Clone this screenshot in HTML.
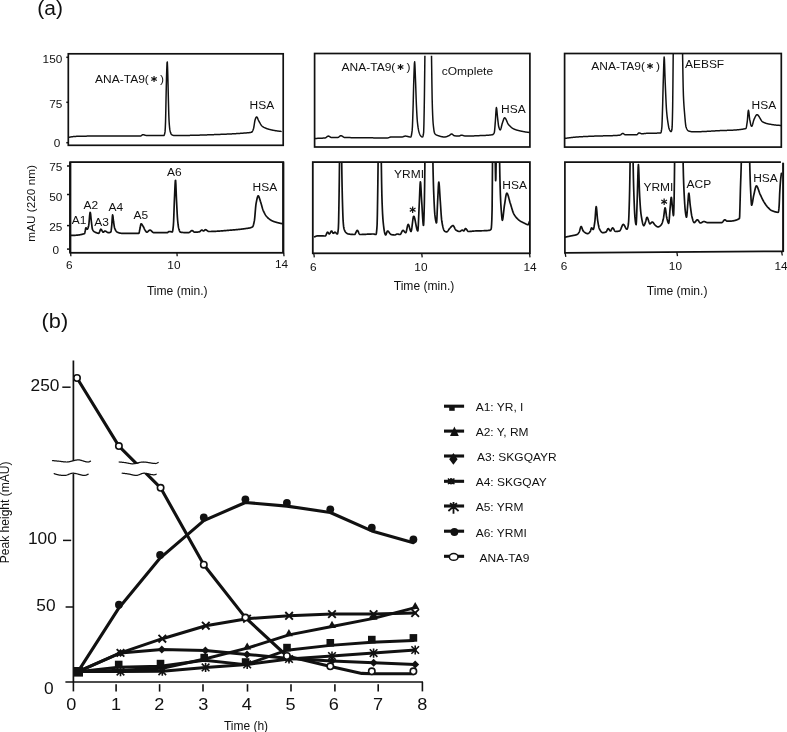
<!DOCTYPE html>
<html><head><meta charset="utf-8"><title>Figure</title>
<style>html,body{margin:0;padding:0;background:#fff}svg{display:block}text{font-family:'Liberation Sans', 'DejaVu Sans', sans-serif;fill:#111}</style>
</head><body>
<svg width="787" height="732" viewBox="0 0 787 732">
<rect width="787" height="732" fill="#fff"/>
<text transform="translate(37.3,15.1) scale(1.08,1)" font-size="19.4" text-anchor="start" >(a)</text>
<defs>
<clipPath id="c_p1t"><rect x="68.3" y="54.4" width="214.89999999999998" height="90.90000000000002"/></clipPath>
<clipPath id="c_p1b"><rect x="70.2" y="162.7" width="213.10000000000002" height="90.10000000000002"/></clipPath>
<clipPath id="c_p2t"><rect x="314.6" y="55.7" width="215.29999999999995" height="91.3"/></clipPath>
<clipPath id="c_p2b"><rect x="312.8" y="162.7" width="217.09999999999997" height="90.60000000000002"/></clipPath>
<clipPath id="c_p3t"><rect x="564.6" y="54.1" width="216.69999999999993" height="93.0"/></clipPath>
<clipPath id="c_p3b"><rect x="564.9" y="162.7" width="218.20000000000005" height="89.60000000000002"/></clipPath>
</defs>
<path d="M68.80,137.30 L69.05,137.26 L69.30,137.22 L69.55,137.17 L69.80,137.13 L70.05,137.09 L70.30,137.04 L70.55,137.00 L70.80,136.96 L71.05,136.92 L71.30,136.88 L71.55,136.84 L71.80,136.80 L72.05,136.76 L72.30,136.73 L72.55,136.69 L72.80,136.66 L73.05,136.62 L73.30,136.59 L73.55,136.56 L73.80,136.54 L74.05,136.51 L74.30,136.49 L74.55,136.46 L74.80,136.45 L75.05,136.43 L75.30,136.41 L75.55,136.40 L75.80,136.39 L76.05,136.38 L76.30,136.37 L76.55,136.36 L76.80,136.35 L77.05,136.35 L77.30,136.34 L77.55,136.33 L77.80,136.32 L78.05,136.31 L78.30,136.30 L78.55,136.30 L78.80,136.29 L79.05,136.28 L79.30,136.27 L79.55,136.27 L79.80,136.26 L80.05,136.25 L80.30,136.25 L80.55,136.24 L80.80,136.23 L81.05,136.23 L81.30,136.22 L81.55,136.21 L81.80,136.21 L82.05,136.20 L82.30,136.20 L82.55,136.19 L82.80,136.19 L83.05,136.18 L83.30,136.18 L83.55,136.17 L83.80,136.17 L84.05,136.16 L84.30,136.16 L84.55,136.15 L84.80,136.15 L85.05,136.15 L85.30,136.14 L85.55,136.14 L85.80,136.14 L86.05,136.13 L86.30,136.13 L86.55,136.13 L86.80,136.12 L87.05,136.12 L87.30,136.12 L87.55,136.12 L87.80,136.11 L88.05,136.11 L88.30,136.11 L88.55,136.11 L88.80,136.11 L89.05,136.10 L89.30,136.10 L89.55,136.10 L89.80,136.10 L90.05,136.10 L90.30,136.10 L90.55,136.10 L90.80,136.10 L91.05,136.10 L91.30,136.09 L91.55,136.09 L91.80,136.09 L92.05,136.09 L92.30,136.09 L92.55,136.09 L92.80,136.09 L93.05,136.09 L93.30,136.09 L93.55,136.09 L93.80,136.09 L94.05,136.09 L94.30,136.08 L94.55,136.08 L94.80,136.08 L95.05,136.08 L95.30,136.08 L95.55,136.08 L95.80,136.08 L96.05,136.08 L96.30,136.08 L96.55,136.08 L96.80,136.08 L97.05,136.08 L97.30,136.08 L97.55,136.08 L97.80,136.08 L98.05,136.07 L98.30,136.07 L98.55,136.07 L98.80,136.07 L99.05,136.07 L99.30,136.07 L99.55,136.07 L99.80,136.07 L100.05,136.07 L100.30,136.07 L100.55,136.07 L100.80,136.07 L101.05,136.07 L101.30,136.07 L101.55,136.07 L101.80,136.07 L102.05,136.07 L102.30,136.07 L102.55,136.07 L102.80,136.07 L103.05,136.07 L103.30,136.07 L103.55,136.07 L103.80,136.07 L104.05,136.07 L104.30,136.07 L104.55,136.07 L104.80,136.07 L105.05,136.06 L105.30,136.06 L105.55,136.06 L105.80,136.06 L106.05,136.06 L106.30,136.06 L106.55,136.06 L106.80,136.06 L107.05,136.06 L107.30,136.06 L107.55,136.06 L107.80,136.06 L108.05,136.06 L108.30,136.06 L108.55,136.06 L108.80,136.06 L109.05,136.06 L109.30,136.06 L109.55,136.06 L109.80,136.06 L110.05,136.06 L110.30,136.06 L110.55,136.06 L110.80,136.06 L111.05,136.06 L111.30,136.06 L111.55,136.06 L111.80,136.06 L112.05,136.06 L112.30,136.06 L112.55,136.06 L112.80,136.06 L113.05,136.06 L113.30,136.06 L113.55,136.06 L113.80,136.06 L114.05,136.06 L114.30,136.06 L114.55,136.06 L114.80,136.06 L115.05,136.06 L115.30,136.06 L115.55,136.06 L115.80,136.06 L116.05,136.06 L116.30,136.06 L116.55,136.06 L116.80,136.06 L117.05,136.06 L117.30,136.06 L117.55,136.06 L117.80,136.06 L118.05,136.06 L118.30,136.06 L118.55,136.06 L118.80,136.06 L119.05,136.06 L119.30,136.06 L119.55,136.06 L119.80,136.06 L120.05,136.06 L120.30,136.06 L120.55,136.06 L120.80,136.06 L121.05,136.05 L121.30,136.05 L121.55,136.05 L121.80,136.05 L122.05,136.05 L122.30,136.05 L122.55,136.05 L122.80,136.05 L123.05,136.05 L123.30,136.05 L123.55,136.05 L123.80,136.05 L124.05,136.05 L124.30,136.05 L124.55,136.05 L124.80,136.05 L125.05,136.05 L125.30,136.05 L125.55,136.05 L125.80,136.05 L126.05,136.05 L126.30,136.05 L126.55,136.05 L126.80,136.05 L127.05,136.05 L127.30,136.05 L127.55,136.05 L127.80,136.05 L128.05,136.05 L128.30,136.04 L128.55,136.04 L128.80,136.04 L129.05,136.04 L129.30,136.04 L129.55,136.04 L129.80,136.04 L130.05,136.04 L130.30,136.04 L130.55,136.04 L130.80,136.04 L131.05,136.04 L131.30,136.04 L131.55,136.04 L131.80,136.04 L132.05,136.04 L132.30,136.03 L132.55,136.03 L132.80,136.03 L133.05,136.03 L133.30,136.03 L133.55,136.03 L133.80,136.03 L134.05,136.03 L134.30,136.03 L134.55,136.03 L134.80,136.03 L135.05,136.03 L135.30,136.02 L135.55,136.02 L135.80,136.02 L136.05,136.02 L136.30,136.02 L136.55,136.02 L136.80,136.02 L137.05,136.02 L137.30,136.02 L137.55,136.02 L137.80,136.01 L138.05,136.01 L138.30,136.01 L138.55,136.01 L138.80,136.01 L139.05,136.01 L139.30,136.01 L139.55,136.01 L139.80,136.00 L140.05,136.00 L140.30,136.00 L140.55,136.00 L140.80,135.94 L141.05,135.81 L141.30,135.64 L141.55,135.43 L141.80,135.22 L142.05,135.02 L142.30,134.86 L142.55,134.74 L142.80,134.70 L143.05,134.71 L143.30,134.73 L143.55,134.77 L143.80,134.82 L144.05,134.88 L144.30,134.95 L144.55,135.02 L144.80,135.09 L145.05,135.17 L145.30,135.24 L145.55,135.31 L145.80,135.37 L146.05,135.42 L146.30,135.46 L146.55,135.49 L146.80,135.50 L147.05,135.50 L147.30,135.51 L147.55,135.51 L147.80,135.51 L148.05,135.52 L148.30,135.52 L148.55,135.52 L148.80,135.53 L149.05,135.53 L149.30,135.53 L149.55,135.53 L149.80,135.54 L150.05,135.54 L150.30,135.54 L150.55,135.54 L150.80,135.55 L151.05,135.55 L151.30,135.55 L151.55,135.55 L151.80,135.56 L152.05,135.56 L152.30,135.56 L152.55,135.56 L152.80,135.56 L153.05,135.57 L153.30,135.57 L153.55,135.57 L153.80,135.57 L154.05,135.57 L154.30,135.57 L154.55,135.58 L154.80,135.58 L155.05,135.58 L155.30,135.58 L155.55,135.58 L155.80,135.58 L156.05,135.58 L156.30,135.59 L156.55,135.59 L156.80,135.59 L157.05,135.59 L157.30,135.59 L157.55,135.59 L157.80,135.59 L158.05,135.59 L158.30,135.59 L158.55,135.59 L158.80,135.59 L159.05,135.59 L159.30,135.60 L159.55,135.60 L159.80,135.60 L160.05,135.60 L160.30,135.60 L160.55,135.60 L160.80,135.60 L161.05,135.60 L161.30,135.60 L161.55,135.60 L161.80,135.60 L162.05,135.60 L162.30,135.60 L162.55,135.60 L162.80,135.60 L163.05,135.60 L163.30,135.60 L163.55,135.60 L163.80,135.60 L164.05,135.43 L164.30,134.94 L164.55,134.14 L164.80,133.06 L165.05,131.64 L165.30,127.78 L165.55,121.45 L165.80,110.82 L166.05,97.70 L166.30,86.27 L166.55,76.55 L166.80,68.86 L167.05,62.70 L167.30,62.00 L167.55,67.39 L167.80,75.00 L168.05,84.65 L168.30,95.98 L168.55,105.78 L168.80,114.98 L169.05,120.82 L169.30,124.44 L169.55,127.29 L169.80,129.38 L170.05,130.72 L170.30,131.73 L170.55,132.59 L170.80,133.31 L171.05,133.88 L171.30,134.29 L171.55,134.54 L171.80,134.73 L172.05,134.89 L172.30,135.04 L172.55,135.16 L172.80,135.26 L173.05,135.33 L173.30,135.38 L173.55,135.40 L173.80,135.41 L174.05,135.43 L174.30,135.44 L174.55,135.44 L174.80,135.45 L175.05,135.46 L175.30,135.47 L175.55,135.47 L175.80,135.48 L176.05,135.48 L176.30,135.49 L176.55,135.49 L176.80,135.50 L177.05,135.50 L177.30,135.50 L177.55,135.50 L177.80,135.50 L178.05,135.50 L178.30,135.50 L178.55,135.50 L178.80,135.50 L179.05,135.50 L179.30,135.50 L179.55,135.50 L179.80,135.50 L180.05,135.50 L180.30,135.49 L180.55,135.49 L180.80,135.49 L181.05,135.49 L181.30,135.49 L181.55,135.49 L181.80,135.49 L182.05,135.48 L182.30,135.48 L182.55,135.48 L182.80,135.48 L183.05,135.47 L183.30,135.47 L183.55,135.47 L183.80,135.47 L184.05,135.46 L184.30,135.46 L184.55,135.46 L184.80,135.46 L185.05,135.45 L185.30,135.45 L185.55,135.45 L185.80,135.44 L186.05,135.44 L186.30,135.44 L186.55,135.43 L186.80,135.43 L187.05,135.42 L187.30,135.42 L187.55,135.42 L187.80,135.41 L188.05,135.41 L188.30,135.40 L188.55,135.40 L188.80,135.39 L189.05,135.39 L189.30,135.39 L189.55,135.38 L189.80,135.38 L190.05,135.37 L190.30,135.37 L190.55,135.36 L190.80,135.36 L191.05,135.35 L191.30,135.34 L191.55,135.34 L191.80,135.33 L192.05,135.33 L192.30,135.32 L192.55,135.32 L192.80,135.31 L193.05,135.30 L193.30,135.30 L193.55,135.29 L193.80,135.29 L194.05,135.28 L194.30,135.27 L194.55,135.27 L194.80,135.26 L195.05,135.26 L195.30,135.25 L195.55,135.24 L195.80,135.24 L196.05,135.23 L196.30,135.22 L196.55,135.21 L196.80,135.21 L197.05,135.20 L197.30,135.19 L197.55,135.19 L197.80,135.18 L198.05,135.17 L198.30,135.16 L198.55,135.16 L198.80,135.15 L199.05,135.14 L199.30,135.14 L199.55,135.13 L199.80,135.12 L200.05,135.11 L200.30,135.10 L200.55,135.10 L200.80,135.09 L201.05,135.08 L201.30,135.07 L201.55,135.06 L201.80,135.06 L202.05,135.05 L202.30,135.04 L202.55,135.03 L202.80,135.02 L203.05,135.02 L203.30,135.01 L203.55,135.00 L203.80,134.99 L204.05,134.98 L204.30,134.97 L204.55,134.97 L204.80,134.96 L205.05,134.95 L205.30,134.94 L205.55,134.93 L205.80,134.92 L206.05,134.91 L206.30,134.90 L206.55,134.90 L206.80,134.89 L207.05,134.88 L207.30,134.87 L207.55,134.86 L207.80,134.85 L208.05,134.84 L208.30,134.83 L208.55,134.82 L208.80,134.81 L209.05,134.81 L209.30,134.80 L209.55,134.79 L209.80,134.78 L210.05,134.77 L210.30,134.76 L210.55,134.75 L210.80,134.74 L211.05,134.73 L211.30,134.72 L211.55,134.71 L211.80,134.70 L212.05,134.69 L212.30,134.68 L212.55,134.67 L212.80,134.66 L213.05,134.66 L213.30,134.65 L213.55,134.64 L213.80,134.63 L214.05,134.62 L214.30,134.61 L214.55,134.60 L214.80,134.59 L215.05,134.58 L215.30,134.57 L215.55,134.56 L215.80,134.55 L216.05,134.54 L216.30,134.53 L216.55,134.52 L216.80,134.51 L217.05,134.50 L217.30,134.49 L217.55,134.48 L217.80,134.47 L218.05,134.46 L218.30,134.45 L218.55,134.44 L218.80,134.43 L219.05,134.42 L219.30,134.42 L219.55,134.41 L219.80,134.40 L220.05,134.39 L220.30,134.38 L220.55,134.37 L220.80,134.36 L221.05,134.35 L221.30,134.34 L221.55,134.33 L221.80,134.32 L222.05,134.31 L222.30,134.30 L222.55,134.29 L222.80,134.28 L223.05,134.27 L223.30,134.26 L223.55,134.25 L223.80,134.24 L224.05,134.23 L224.30,134.22 L224.55,134.21 L224.80,134.20 L225.05,134.19 L225.30,134.18 L225.55,134.17 L225.80,134.16 L226.05,134.15 L226.30,134.14 L226.55,134.13 L226.80,134.12 L227.05,134.11 L227.30,134.09 L227.55,134.08 L227.80,134.07 L228.05,134.06 L228.30,134.05 L228.55,134.04 L228.80,134.03 L229.05,134.01 L229.30,134.00 L229.55,133.99 L229.80,133.98 L230.05,133.97 L230.30,133.95 L230.55,133.94 L230.80,133.93 L231.05,133.92 L231.30,133.90 L231.55,133.89 L231.80,133.88 L232.05,133.86 L232.30,133.85 L232.55,133.84 L232.80,133.82 L233.05,133.81 L233.30,133.80 L233.55,133.78 L233.80,133.77 L234.05,133.76 L234.30,133.74 L234.55,133.73 L234.80,133.71 L235.05,133.70 L235.30,133.68 L235.55,133.67 L235.80,133.65 L236.05,133.64 L236.30,133.62 L236.55,133.61 L236.80,133.59 L237.05,133.58 L237.30,133.56 L237.55,133.55 L237.80,133.53 L238.05,133.51 L238.30,133.50 L238.55,133.48 L238.80,133.46 L239.05,133.45 L239.30,133.43 L239.55,133.41 L239.80,133.40 L240.05,133.38 L240.30,133.36 L240.55,133.34 L240.80,133.33 L241.05,133.31 L241.30,133.29 L241.55,133.27 L241.80,133.25 L242.05,133.23 L242.30,133.21 L242.55,133.20 L242.80,133.18 L243.05,133.16 L243.30,133.14 L243.55,133.12 L243.80,133.10 L244.05,133.08 L244.30,133.06 L244.55,133.04 L244.80,133.02 L245.05,133.00 L245.30,132.98 L245.55,132.96 L245.80,132.94 L246.05,132.92 L246.30,132.91 L246.55,132.89 L246.80,132.87 L247.05,132.85 L247.30,132.84 L247.55,132.82 L247.80,132.80 L248.05,132.78 L248.30,132.76 L248.55,132.73 L248.80,132.71 L249.05,132.68 L249.30,132.65 L249.55,132.61 L249.80,132.58 L250.05,132.54 L250.30,132.49 L250.55,132.44 L250.80,132.39 L251.05,132.34 L251.30,132.28 L251.55,132.21 L251.80,132.10 L252.05,131.86 L252.30,131.50 L252.55,131.04 L252.80,130.50 L253.05,129.91 L253.30,129.26 L253.55,128.51 L253.80,127.34 L254.05,125.88 L254.30,124.26 L254.55,122.64 L254.80,121.17 L255.05,120.00 L255.30,119.23 L255.55,118.56 L255.80,117.95 L256.05,117.44 L256.30,117.07 L256.55,116.91 L256.80,116.97 L257.05,117.22 L257.30,117.63 L257.55,118.14 L257.80,118.73 L258.05,119.35 L258.30,119.96 L258.55,120.52 L258.80,121.00 L259.05,121.43 L259.30,121.86 L259.55,122.31 L259.80,122.75 L260.05,123.19 L260.30,123.62 L260.55,124.05 L260.80,124.45 L261.05,124.84 L261.30,125.19 L261.55,125.53 L261.80,125.82 L262.05,126.08 L262.30,126.30 L262.55,126.49 L262.80,126.67 L263.05,126.84 L263.30,127.00 L263.55,127.16 L263.80,127.30 L264.05,127.44 L264.30,127.57 L264.55,127.69 L264.80,127.81 L265.05,127.92 L265.30,128.03 L265.55,128.14 L265.80,128.23 L266.05,128.33 L266.30,128.42 L266.55,128.51 L266.80,128.60 L267.05,128.69 L267.30,128.77 L267.55,128.85 L267.80,128.93 L268.05,129.01 L268.30,129.09 L268.55,129.16 L268.80,129.23 L269.05,129.31 L269.30,129.38 L269.55,129.44 L269.80,129.51 L270.05,129.57 L270.30,129.64 L270.55,129.70 L270.80,129.76 L271.05,129.82 L271.30,129.88 L271.55,129.93 L271.80,129.99 L272.05,130.04 L272.30,130.09 L272.55,130.14 L272.80,130.19 L273.05,130.24 L273.30,130.29 L273.55,130.34 L273.80,130.38 L274.05,130.43 L274.30,130.47 L274.55,130.51 L274.80,130.56 L275.05,130.60 L275.30,130.64 L275.55,130.68 L275.80,130.72 L276.05,130.76 L276.30,130.80 L276.55,130.84 L276.80,130.88 L277.05,130.92 L277.30,130.96 L277.55,130.99 L277.80,131.03 L278.05,131.06 L278.30,131.09 L278.55,131.13 L278.80,131.16 L279.05,131.19 L279.30,131.22 L279.55,131.24 L279.80,131.27 L280.05,131.30 L280.30,131.32 L280.55,131.34 L280.80,131.37 L281.05,131.39" fill="none" stroke="#111" stroke-width="1.5" stroke-linejoin="round" stroke-linecap="round" clip-path="url(#c_p1t)"/>
<rect x="68.3" y="53.8" width="214.89999999999998" height="91.50000000000001" fill="none" stroke="#111" stroke-width="1.7"/>
<path d="M70.60,235.40 L70.85,235.40 L71.10,235.40 L71.35,235.40 L71.60,235.40 L71.85,235.39 L72.10,235.39 L72.35,235.39 L72.60,235.38 L72.85,235.38 L73.10,235.37 L73.35,235.37 L73.60,235.36 L73.85,235.35 L74.10,235.34 L74.35,235.33 L74.60,235.32 L74.85,235.31 L75.10,235.30 L75.35,235.29 L75.60,235.27 L75.85,235.25 L76.10,235.24 L76.35,235.22 L76.60,235.20 L76.85,235.17 L77.10,235.15 L77.35,235.13 L77.60,235.10 L77.85,235.07 L78.10,235.04 L78.35,235.01 L78.60,234.98 L78.85,234.94 L79.10,234.91 L79.35,234.87 L79.60,234.83 L79.85,234.79 L80.10,234.74 L80.35,234.70 L80.60,234.65 L80.85,234.60 L81.10,234.55 L81.35,234.49 L81.60,234.43 L81.85,234.38 L82.10,234.31 L82.35,234.25 L82.60,234.18 L82.85,234.12 L83.10,234.05 L83.35,233.97 L83.60,233.90 L83.85,233.82 L84.10,233.74 L84.35,233.65 L84.60,233.48 L84.85,232.63 L85.10,231.44 L85.35,230.24 L85.60,228.76 L85.85,227.83 L86.10,227.89 L86.35,228.19 L86.60,228.58 L86.85,228.95 L87.10,229.18 L87.35,229.15 L87.60,228.86 L87.85,228.35 L88.10,227.67 L88.35,226.87 L88.60,226.00 L88.85,224.47 L89.10,221.98 L89.35,219.04 L89.60,216.13 L89.85,213.77 L90.10,212.43 L90.35,212.60 L90.60,214.16 L90.85,216.56 L91.10,219.24 L91.35,221.61 L91.60,223.58 L91.85,225.69 L92.10,227.61 L92.35,229.03 L92.60,229.69 L92.85,230.12 L93.10,230.50 L93.35,230.82 L93.60,231.10 L93.85,231.34 L94.10,231.55 L94.35,231.73 L94.60,231.88 L94.85,232.02 L95.10,232.15 L95.35,232.27 L95.60,232.39 L95.85,232.51 L96.10,232.62 L96.35,232.73 L96.60,232.83 L96.85,232.93 L97.10,233.01 L97.35,233.09 L97.60,233.16 L97.85,233.21 L98.10,233.26 L98.35,233.28 L98.60,233.30 L98.85,233.25 L99.10,232.94 L99.35,232.44 L99.60,231.80 L99.85,231.11 L100.10,230.43 L100.35,229.84 L100.60,229.41 L100.85,229.21 L101.10,229.26 L101.35,229.50 L101.60,229.86 L101.85,230.31 L102.10,230.80 L102.35,231.27 L102.60,231.69 L102.85,232.01 L103.10,232.18 L103.35,232.17 L103.60,232.03 L103.85,231.81 L104.10,231.55 L104.35,231.30 L104.60,231.10 L104.85,231.00 L105.10,231.02 L105.35,231.07 L105.60,231.17 L105.85,231.29 L106.10,231.44 L106.35,231.61 L106.60,231.78 L106.85,231.96 L107.10,232.13 L107.35,232.29 L107.60,232.43 L107.85,232.55 L108.10,232.64 L108.35,232.69 L108.60,232.70 L108.85,232.69 L109.10,232.66 L109.35,232.62 L109.60,232.56 L109.85,232.48 L110.10,232.38 L110.35,232.27 L110.60,232.13 L110.85,231.94 L111.10,230.93 L111.35,229.09 L111.60,226.88 L111.85,224.28 L112.10,220.30 L112.35,216.56 L112.60,214.90 L112.85,215.71 L113.10,217.66 L113.35,220.00 L113.60,222.00 L113.85,223.67 L114.10,225.35 L114.35,226.86 L114.60,228.00 L114.85,228.67 L115.10,229.24 L115.35,229.76 L115.60,230.23 L115.85,230.65 L116.10,231.02 L116.35,231.34 L116.60,231.62 L116.85,231.85 L117.10,232.04 L117.35,232.18 L117.60,232.29 L117.85,232.39 L118.10,232.49 L118.35,232.59 L118.60,232.68 L118.85,232.77 L119.10,232.84 L119.35,232.92 L119.60,232.99 L119.85,233.05 L120.10,233.10 L120.35,233.15 L120.60,233.20 L120.85,233.23 L121.10,233.26 L121.35,233.28 L121.60,233.29 L121.85,233.30 L122.10,233.30 L122.35,233.30 L122.60,233.30 L122.85,233.30 L123.10,233.30 L123.35,233.30 L123.60,233.30 L123.85,233.30 L124.10,233.30 L124.35,233.30 L124.60,233.30 L124.85,233.30 L125.10,233.30 L125.35,233.30 L125.60,233.30 L125.85,233.30 L126.10,233.30 L126.35,233.30 L126.60,233.30 L126.85,233.30 L127.10,233.30 L127.35,233.30 L127.60,233.30 L127.85,233.30 L128.10,233.30 L128.35,233.30 L128.60,233.30 L128.85,233.30 L129.10,233.30 L129.35,233.30 L129.60,233.30 L129.85,233.30 L130.10,233.30 L130.35,233.30 L130.60,233.30 L130.85,233.30 L131.10,233.30 L131.35,233.30 L131.60,233.30 L131.85,233.30 L132.10,233.30 L132.35,233.30 L132.60,233.30 L132.85,233.30 L133.10,233.30 L133.35,233.30 L133.60,233.30 L133.85,233.30 L134.10,233.30 L134.35,233.30 L134.60,233.30 L134.85,233.30 L135.10,233.30 L135.35,233.30 L135.60,233.30 L135.85,233.30 L136.10,233.30 L136.35,233.30 L136.60,233.30 L136.85,233.30 L137.10,233.30 L137.35,233.30 L137.60,233.30 L137.85,233.30 L138.10,233.30 L138.35,233.30 L138.60,233.30 L138.85,233.28 L139.10,232.76 L139.35,231.71 L139.60,230.44 L139.85,229.21 L140.10,228.04 L140.35,226.63 L140.60,225.26 L140.85,224.21 L141.10,223.80 L141.35,223.86 L141.60,224.05 L141.85,224.32 L142.10,224.67 L142.35,225.06 L142.60,225.49 L142.85,225.92 L143.10,226.34 L143.35,226.75 L143.60,227.21 L143.85,227.73 L144.10,228.26 L144.35,228.80 L144.60,229.30 L144.85,229.76 L145.10,230.15 L145.35,230.56 L145.60,230.97 L145.85,231.36 L146.10,231.71 L146.35,231.98 L146.60,232.15 L146.85,232.20 L147.10,232.15 L147.35,232.04 L147.60,231.87 L147.85,231.67 L148.10,231.44 L148.35,231.20 L148.60,230.95 L148.85,230.72 L149.10,230.50 L149.35,230.32 L149.60,230.19 L149.85,230.11 L150.10,230.11 L150.35,230.16 L150.60,230.27 L150.85,230.42 L151.10,230.60 L151.35,230.82 L151.60,231.05 L151.85,231.30 L152.10,231.55 L152.35,231.79 L152.60,232.03 L152.85,232.24 L153.10,232.42 L153.35,232.56 L153.60,232.66 L153.85,232.70 L154.10,232.70 L154.35,232.70 L154.60,232.70 L154.85,232.70 L155.10,232.70 L155.35,232.70 L155.60,232.70 L155.85,232.70 L156.10,232.70 L156.35,232.70 L156.60,232.70 L156.85,232.70 L157.10,232.70 L157.35,232.70 L157.60,232.70 L157.85,232.70 L158.10,232.70 L158.35,232.70 L158.60,232.70 L158.85,232.70 L159.10,232.70 L159.35,232.70 L159.60,232.70 L159.85,232.70 L160.10,232.70 L160.35,232.70 L160.60,232.70 L160.85,232.70 L161.10,232.70 L161.35,232.70 L161.60,232.70 L161.85,232.70 L162.10,232.70 L162.35,232.70 L162.60,232.70 L162.85,232.70 L163.10,232.70 L163.35,232.70 L163.60,232.70 L163.85,232.70 L164.10,232.70 L164.35,232.70 L164.60,232.70 L164.85,232.70 L165.10,232.70 L165.35,232.70 L165.60,232.70 L165.85,232.70 L166.10,232.70 L166.35,232.70 L166.60,232.70 L166.85,232.70 L167.10,232.70 L167.35,232.68 L167.60,232.55 L167.85,232.34 L168.10,232.10 L168.35,231.86 L168.60,231.65 L168.85,231.52 L169.10,231.50 L169.35,231.51 L169.60,231.53 L169.85,231.57 L170.10,231.60 L170.35,231.65 L170.60,231.69 L170.85,231.74 L171.10,231.78 L171.35,231.82 L171.60,231.85 L171.85,231.88 L172.10,231.90 L172.35,231.88 L172.60,231.24 L172.85,229.84 L173.10,227.87 L173.35,225.50 L173.60,221.78 L173.85,215.35 L174.10,207.87 L174.35,201.11 L174.60,195.41 L174.85,189.33 L175.10,183.98 L175.35,180.55 L175.60,180.29 L175.85,184.04 L176.10,190.17 L176.35,196.71 L176.60,201.96 L176.85,207.09 L177.10,212.14 L177.35,216.62 L177.60,220.00 L177.85,222.53 L178.10,224.74 L178.35,226.55 L178.60,227.90 L178.85,228.82 L179.10,229.63 L179.35,230.37 L179.60,231.01 L179.85,231.53 L180.10,231.91 L180.35,232.14 L180.60,232.22 L180.85,232.25 L181.10,232.29 L181.35,232.32 L181.60,232.35 L181.85,232.38 L182.10,232.41 L182.35,232.43 L182.60,232.46 L182.85,232.48 L183.10,232.50 L183.35,232.52 L183.60,232.54 L183.85,232.56 L184.10,232.58 L184.35,232.59 L184.60,232.61 L184.85,232.62 L185.10,232.63 L185.35,232.64 L185.60,232.65 L185.85,232.66 L186.10,232.67 L186.35,232.68 L186.60,232.68 L186.85,232.69 L187.10,232.69 L187.35,232.69 L187.60,232.70 L187.85,232.70 L188.10,232.70 L188.35,232.70 L188.60,232.69 L188.85,232.64 L189.10,232.54 L189.35,232.39 L189.60,232.21 L189.85,232.00 L190.10,231.78 L190.35,231.56 L190.60,231.34 L190.85,231.13 L191.10,230.95 L191.35,230.79 L191.60,230.68 L191.85,230.61 L192.10,230.61 L192.35,230.67 L192.60,230.80 L192.85,230.98 L193.10,231.18 L193.35,231.40 L193.60,231.62 L193.85,231.82 L194.10,232.00 L194.35,232.13 L194.60,232.19 L194.85,232.20 L195.10,232.20 L195.35,232.19 L195.60,232.19 L195.85,232.18 L196.10,232.17 L196.35,232.16 L196.60,232.14 L196.85,232.13 L197.10,232.11 L197.35,232.09 L197.60,232.07 L197.85,232.04 L198.10,232.02 L198.35,231.99 L198.60,231.96 L198.85,231.93 L199.10,231.90 L199.35,231.83 L199.60,231.69 L199.85,231.51 L200.10,231.29 L200.35,231.05 L200.60,230.81 L200.85,230.58 L201.10,230.38 L201.35,230.23 L201.60,230.13 L201.85,230.10 L202.10,230.17 L202.35,230.30 L202.60,230.48 L202.85,230.66 L203.10,230.83 L203.35,230.95 L203.60,231.00 L203.85,230.93 L204.10,230.75 L204.35,230.51 L204.60,230.24 L204.85,229.99 L205.10,229.80 L205.35,229.70 L205.60,229.72 L205.85,229.78 L206.10,229.89 L206.35,230.03 L206.60,230.19 L206.85,230.37 L207.10,230.56 L207.35,230.75 L207.60,230.94 L207.85,231.11 L208.10,231.26 L208.35,231.38 L208.60,231.46 L208.85,231.50 L209.10,231.50 L209.35,231.50 L209.60,231.50 L209.85,231.50 L210.10,231.49 L210.35,231.49 L210.60,231.49 L210.85,231.48 L211.10,231.48 L211.35,231.47 L211.60,231.47 L211.85,231.46 L212.10,231.45 L212.35,231.45 L212.60,231.44 L212.85,231.43 L213.10,231.42 L213.35,231.41 L213.60,231.40 L213.85,231.39 L214.10,231.38 L214.35,231.37 L214.60,231.36 L214.85,231.35 L215.10,231.34 L215.35,231.32 L215.60,231.31 L215.85,231.30 L216.10,231.28 L216.35,231.27 L216.60,231.25 L216.85,231.24 L217.10,231.22 L217.35,231.21 L217.60,231.19 L217.85,231.18 L218.10,231.16 L218.35,231.14 L218.60,231.13 L218.85,231.11 L219.10,231.09 L219.35,231.07 L219.60,231.06 L219.85,231.04 L220.10,231.02 L220.35,231.00 L220.60,230.98 L220.85,230.96 L221.10,230.94 L221.35,230.92 L221.60,230.90 L221.85,230.89 L222.10,230.87 L222.35,230.84 L222.60,230.82 L222.85,230.80 L223.10,230.78 L223.35,230.76 L223.60,230.74 L223.85,230.72 L224.10,230.70 L224.35,230.68 L224.60,230.66 L224.85,230.64 L225.10,230.62 L225.35,230.59 L225.60,230.57 L225.85,230.55 L226.10,230.53 L226.35,230.51 L226.60,230.49 L226.85,230.47 L227.10,230.44 L227.35,230.42 L227.60,230.40 L227.85,230.38 L228.10,230.36 L228.35,230.34 L228.60,230.32 L228.85,230.29 L229.10,230.27 L229.35,230.25 L229.60,230.23 L229.85,230.21 L230.10,230.19 L230.35,230.17 L230.60,230.15 L230.85,230.13 L231.10,230.11 L231.35,230.09 L231.60,230.07 L231.85,230.05 L232.10,230.03 L232.35,230.01 L232.60,229.99 L232.85,229.97 L233.10,229.95 L233.35,229.93 L233.60,229.90 L233.85,229.88 L234.10,229.86 L234.35,229.84 L234.60,229.82 L234.85,229.80 L235.10,229.78 L235.35,229.76 L235.60,229.73 L235.85,229.71 L236.10,229.69 L236.35,229.67 L236.60,229.64 L236.85,229.62 L237.10,229.60 L237.35,229.57 L237.60,229.55 L237.85,229.52 L238.10,229.50 L238.35,229.47 L238.60,229.45 L238.85,229.42 L239.10,229.40 L239.35,229.37 L239.60,229.34 L239.85,229.32 L240.10,229.29 L240.35,229.26 L240.60,229.23 L240.85,229.21 L241.10,229.18 L241.35,229.15 L241.60,229.12 L241.85,229.09 L242.10,229.06 L242.35,229.02 L242.60,228.99 L242.85,228.96 L243.10,228.93 L243.35,228.89 L243.60,228.86 L243.85,228.83 L244.10,228.79 L244.35,228.76 L244.60,228.72 L244.85,228.68 L245.10,228.65 L245.35,228.61 L245.60,228.57 L245.85,228.53 L246.10,228.50 L246.35,228.47 L246.60,228.43 L246.85,228.40 L247.10,228.37 L247.35,228.34 L247.60,228.30 L247.85,228.27 L248.10,228.23 L248.35,228.19 L248.60,228.15 L248.85,228.11 L249.10,228.06 L249.35,228.01 L249.60,227.96 L249.85,227.90 L250.10,227.83 L250.35,227.76 L250.60,227.69 L250.85,227.61 L251.10,227.52 L251.35,227.43 L251.60,227.33 L251.85,227.22 L252.10,227.10 L252.35,226.98 L252.60,226.83 L252.85,226.48 L253.10,225.92 L253.35,225.18 L253.60,224.28 L253.85,223.26 L254.10,222.14 L254.35,220.94 L254.60,219.10 L254.85,216.58 L255.10,213.64 L255.35,210.58 L255.60,207.66 L255.85,205.18 L256.10,203.40 L256.35,202.08 L256.60,200.79 L256.85,199.57 L257.10,198.46 L257.35,197.50 L257.60,196.74 L257.85,196.20 L258.10,195.93 L258.35,195.94 L258.60,196.20 L258.85,196.64 L259.10,197.23 L259.35,197.94 L259.60,198.72 L259.85,199.55 L260.10,200.37 L260.35,201.16 L260.60,201.89 L260.85,202.67 L261.10,203.51 L261.35,204.39 L261.60,205.31 L261.85,206.23 L262.10,207.13 L262.35,208.01 L262.60,208.84 L262.85,209.59 L263.10,210.26 L263.35,210.84 L263.60,211.40 L263.85,211.93 L264.10,212.45 L264.35,212.94 L264.60,213.42 L264.85,213.88 L265.10,214.31 L265.35,214.73 L265.60,215.12 L265.85,215.49 L266.10,215.84 L266.35,216.17 L266.60,216.47 L266.85,216.75 L267.10,217.02 L267.35,217.28 L267.60,217.53 L267.85,217.78 L268.10,218.02 L268.35,218.24 L268.60,218.47 L268.85,218.68 L269.10,218.89 L269.35,219.08 L269.60,219.28 L269.85,219.46 L270.10,219.64 L270.35,219.81 L270.60,219.97 L270.85,220.13 L271.10,220.27 L271.35,220.42 L271.60,220.55 L271.85,220.68 L272.10,220.80 L272.35,220.92 L272.60,221.03 L272.85,221.14 L273.10,221.24 L273.35,221.34 L273.60,221.44 L273.85,221.53 L274.10,221.62 L274.35,221.71 L274.60,221.79 L274.85,221.87 L275.10,221.95 L275.35,222.03 L275.60,222.11 L275.85,222.18 L276.10,222.25 L276.35,222.32 L276.60,222.39 L276.85,222.46 L277.10,222.52 L277.35,222.59 L277.60,222.65 L277.85,222.71 L278.10,222.78 L278.35,222.84 L278.60,222.90 L278.85,222.96 L279.10,223.02 L279.35,223.08 L279.60,223.13 L279.85,223.19 L280.10,223.24 L280.35,223.30 L280.60,223.35 L280.85,223.40 L281.10,223.45 L281.35,223.50 L281.60,223.54 L281.85,223.59 L282.10,223.63 L282.35,223.67 L282.60,223.71 L282.85,223.75 L283.10,223.79" fill="none" stroke="#111" stroke-width="1.7" stroke-linejoin="round" stroke-linecap="round" clip-path="url(#c_p1b)"/>
<rect x="70.2" y="162.1" width="213.10000000000002" height="90.70000000000002" fill="none" stroke="#111" stroke-width="1.8"/>
<path d="M314.90,138.40 L315.15,138.40 L315.40,138.40 L315.65,138.40 L315.90,138.40 L316.15,138.39 L316.40,138.39 L316.65,138.39 L316.90,138.38 L317.15,138.38 L317.40,138.37 L317.65,138.37 L317.90,138.36 L318.15,138.36 L318.40,138.35 L318.65,138.34 L318.90,138.33 L319.15,138.32 L319.40,138.31 L319.65,138.30 L319.90,138.29 L320.15,138.28 L320.40,138.27 L320.65,138.26 L320.90,138.24 L321.15,138.23 L321.40,138.21 L321.65,138.20 L321.90,138.18 L322.15,138.17 L322.40,138.15 L322.65,138.13 L322.90,138.11 L323.15,138.09 L323.40,138.07 L323.65,138.05 L323.90,138.03 L324.15,138.00 L324.40,137.98 L324.65,137.96 L324.90,137.93 L325.15,137.91 L325.40,137.86 L325.65,137.76 L325.90,137.62 L326.15,137.45 L326.40,137.25 L326.65,137.04 L326.90,136.83 L327.15,136.63 L327.40,136.45 L327.65,136.29 L327.90,136.18 L328.15,136.11 L328.40,136.10 L328.65,136.15 L328.90,136.23 L329.15,136.34 L329.40,136.48 L329.65,136.64 L329.90,136.80 L330.15,136.96 L330.40,137.12 L330.65,137.26 L330.90,137.37 L331.15,137.45 L331.40,137.50 L331.65,137.50 L331.90,137.50 L332.15,137.50 L332.40,137.50 L332.65,137.50 L332.90,137.50 L333.15,137.50 L333.40,137.50 L333.65,137.50 L333.90,137.50 L334.15,137.50 L334.40,137.50 L334.65,137.50 L334.90,137.50 L335.15,137.50 L335.40,137.50 L335.65,137.50 L335.90,137.50 L336.15,137.50 L336.40,137.50 L336.65,137.50 L336.90,137.50 L337.15,137.50 L337.40,137.50 L337.65,137.50 L337.90,137.48 L338.15,137.40 L338.40,137.28 L338.65,137.12 L338.90,136.93 L339.15,136.73 L339.40,136.52 L339.65,136.31 L339.90,136.12 L340.15,135.95 L340.40,135.82 L340.65,135.73 L340.90,135.70 L341.15,135.72 L341.40,135.78 L341.65,135.87 L341.90,135.99 L342.15,136.13 L342.40,136.29 L342.65,136.45 L342.90,136.62 L343.15,136.79 L343.40,136.96 L343.65,137.11 L343.90,137.24 L344.15,137.36 L344.40,137.44 L344.65,137.49 L344.90,137.50 L345.15,137.51 L345.40,137.51 L345.65,137.52 L345.90,137.53 L346.15,137.53 L346.40,137.54 L346.65,137.54 L346.90,137.55 L347.15,137.56 L347.40,137.56 L347.65,137.57 L347.90,137.57 L348.15,137.58 L348.40,137.58 L348.65,137.59 L348.90,137.59 L349.15,137.60 L349.40,137.60 L349.65,137.61 L349.90,137.61 L350.15,137.62 L350.40,137.62 L350.65,137.63 L350.90,137.63 L351.15,137.64 L351.40,137.64 L351.65,137.65 L351.90,137.65 L352.15,137.66 L352.40,137.66 L352.65,137.67 L352.90,137.67 L353.15,137.68 L353.40,137.68 L353.65,137.68 L353.90,137.69 L354.15,137.69 L354.40,137.70 L354.65,137.70 L354.90,137.70 L355.15,137.71 L355.40,137.71 L355.65,137.72 L355.90,137.72 L356.15,137.72 L356.40,137.73 L356.65,137.73 L356.90,137.73 L357.15,137.74 L357.40,137.74 L357.65,137.74 L357.90,137.75 L358.15,137.75 L358.40,137.75 L358.65,137.76 L358.90,137.76 L359.15,137.76 L359.40,137.77 L359.65,137.77 L359.90,137.77 L360.15,137.78 L360.40,137.78 L360.65,137.78 L360.90,137.78 L361.15,137.79 L361.40,137.79 L361.65,137.79 L361.90,137.79 L362.15,137.80 L362.40,137.80 L362.65,137.80 L362.90,137.81 L363.15,137.81 L363.40,137.81 L363.65,137.81 L363.90,137.81 L364.15,137.82 L364.40,137.82 L364.65,137.82 L364.90,137.82 L365.15,137.83 L365.40,137.83 L365.65,137.83 L365.90,137.83 L366.15,137.83 L366.40,137.84 L366.65,137.84 L366.90,137.84 L367.15,137.84 L367.40,137.84 L367.65,137.84 L367.90,137.85 L368.15,137.85 L368.40,137.85 L368.65,137.85 L368.90,137.85 L369.15,137.85 L369.40,137.86 L369.65,137.86 L369.90,137.86 L370.15,137.86 L370.40,137.86 L370.65,137.86 L370.90,137.86 L371.15,137.87 L371.40,137.87 L371.65,137.87 L371.90,137.87 L372.15,137.87 L372.40,137.87 L372.65,137.87 L372.90,137.87 L373.15,137.87 L373.40,137.88 L373.65,137.88 L373.90,137.88 L374.15,137.88 L374.40,137.88 L374.65,137.88 L374.90,137.88 L375.15,137.88 L375.40,137.88 L375.65,137.88 L375.90,137.88 L376.15,137.89 L376.40,137.89 L376.65,137.89 L376.90,137.89 L377.15,137.89 L377.40,137.89 L377.65,137.89 L377.90,137.89 L378.15,137.89 L378.40,137.89 L378.65,137.89 L378.90,137.89 L379.15,137.89 L379.40,137.89 L379.65,137.89 L379.90,137.89 L380.15,137.89 L380.40,137.90 L380.65,137.90 L380.90,137.90 L381.15,137.90 L381.40,137.90 L381.65,137.90 L381.90,137.90 L382.15,137.90 L382.40,137.90 L382.65,137.90 L382.90,137.90 L383.15,137.90 L383.40,137.90 L383.65,137.90 L383.90,137.90 L384.15,137.90 L384.40,137.90 L384.65,137.90 L384.90,137.90 L385.15,137.90 L385.40,137.90 L385.65,137.90 L385.90,137.90 L386.15,137.90 L386.40,137.90 L386.65,137.90 L386.90,137.90 L387.15,137.90 L387.40,137.90 L387.65,137.90 L387.90,137.87 L388.15,137.82 L388.40,137.76 L388.65,137.68 L388.90,137.60 L389.15,137.51 L389.40,137.41 L389.65,137.32 L389.90,137.23 L390.15,137.15 L390.40,137.09 L390.65,137.04 L390.90,137.01 L391.15,137.00 L391.40,137.00 L391.65,137.00 L391.90,137.00 L392.15,137.00 L392.40,137.00 L392.65,137.00 L392.90,137.00 L393.15,137.00 L393.40,137.00 L393.65,137.00 L393.90,137.00 L394.15,137.00 L394.40,137.00 L394.65,137.00 L394.90,137.00 L395.15,137.00 L395.40,137.00 L395.65,137.00 L395.90,137.00 L396.15,137.00 L396.40,137.00 L396.65,137.00 L396.90,137.00 L397.15,137.00 L397.40,137.00 L397.65,137.00 L397.90,137.00 L398.15,137.00 L398.40,137.00 L398.65,137.00 L398.90,137.00 L399.15,137.00 L399.40,137.00 L399.65,137.00 L399.90,137.00 L400.15,137.00 L400.40,137.00 L400.65,137.00 L400.90,137.00 L401.15,137.00 L401.40,137.00 L401.65,137.00 L401.90,137.00 L402.15,136.97 L402.40,136.93 L402.65,136.87 L402.90,136.79 L403.15,136.70 L403.40,136.61 L403.65,136.51 L403.90,136.42 L404.15,136.33 L404.40,136.25 L404.65,136.18 L404.90,136.13 L405.15,136.10 L405.40,136.10 L405.65,136.11 L405.90,136.13 L406.15,136.16 L406.40,136.20 L406.65,136.24 L406.90,136.29 L407.15,136.34 L407.40,136.40 L407.65,136.46 L407.90,136.53 L408.15,136.59 L408.40,136.65 L408.65,136.71 L408.90,136.77 L409.15,136.82 L409.40,136.87 L409.65,136.91 L409.90,136.95 L410.15,136.97 L410.40,136.99 L410.65,137.00 L410.90,136.86 L411.15,136.29 L411.40,135.32 L411.65,134.00 L411.90,132.35 L412.15,130.42 L412.40,127.05 L412.65,120.73 L412.90,113.06 L413.15,104.91 L413.40,94.84 L413.65,84.90 L413.90,77.04 L414.15,69.41 L414.40,63.49 L414.65,61.80 L414.90,64.88 L415.15,70.78 L415.40,77.52 L415.65,83.86 L415.90,91.23 L416.15,98.70 L416.40,105.00 L416.65,110.19 L416.90,114.96 L417.15,119.00 L417.40,122.00 L417.65,124.23 L417.90,126.20 L418.15,127.92 L418.40,129.39 L418.65,130.63 L418.90,131.65 L419.15,132.48 L419.40,133.24 L419.65,133.92 L419.90,134.53 L420.15,135.05 L420.40,135.49 L420.65,135.84 L420.90,136.10 L421.15,136.33 L421.40,136.54 L421.65,136.73 L421.90,136.87 L422.15,136.97 L422.40,137.00 L422.65,136.83 L422.90,136.32 L423.15,135.45 L423.40,134.24 L423.65,132.46 L423.90,124.82 L424.15,112.57 L424.40,97.09 L424.65,76.22 L424.90,55.00 L425.15,36.47 L425.40,20.00 L425.65,20.00 L425.90,20.00 L426.15,20.00 L426.40,20.00 L426.65,20.00 L426.90,20.00 L427.15,20.00 L427.40,20.00 L427.65,20.00 L427.90,20.00 L428.15,20.00 L428.40,20.00 L428.65,20.00 L428.90,20.00 L429.15,20.00 L429.40,20.00 L429.65,20.00 L429.90,20.00 L430.15,20.00 L430.40,20.00 L430.65,20.00 L430.90,20.00 L431.15,29.96 L431.40,48.02 L431.65,65.80 L431.90,83.79 L432.15,98.82 L432.40,108.07 L432.65,114.71 L432.90,119.85 L433.15,123.46 L433.40,125.95 L433.65,128.14 L433.90,130.02 L434.15,131.54 L434.40,132.66 L434.65,133.32 L434.90,133.65 L435.15,133.93 L435.40,134.18 L435.65,134.41 L435.90,134.60 L436.15,134.78 L436.40,134.93 L436.65,135.07 L436.90,135.19 L437.15,135.30 L437.40,135.39 L437.65,135.48 L437.90,135.57 L438.15,135.65 L438.40,135.73 L438.65,135.81 L438.90,135.90 L439.15,135.98 L439.40,136.05 L439.65,136.13 L439.90,136.21 L440.15,136.28 L440.40,136.35 L440.65,136.42 L440.90,136.48 L441.15,136.55 L441.40,136.61 L441.65,136.66 L441.90,136.72 L442.15,136.76 L442.40,136.81 L442.65,136.85 L442.90,136.89 L443.15,136.92 L443.40,136.94 L443.65,136.97 L443.90,136.98 L444.15,136.99 L444.40,137.00 L444.65,137.00 L444.90,136.98 L445.15,136.96 L445.40,136.92 L445.65,136.87 L445.90,136.81 L446.15,136.75 L446.40,136.68 L446.65,136.59 L446.90,136.51 L447.15,136.42 L447.40,136.32 L447.65,136.22 L447.90,136.12 L448.15,136.01 L448.40,135.91 L448.65,135.80 L448.90,135.70 L449.15,135.57 L449.40,135.41 L449.65,135.22 L449.90,135.01 L450.15,134.79 L450.40,134.59 L450.65,134.39 L450.90,134.23 L451.15,134.10 L451.40,134.02 L451.65,134.00 L451.90,134.05 L452.15,134.17 L452.40,134.33 L452.65,134.53 L452.90,134.75 L453.15,134.97 L453.40,135.19 L453.65,135.39 L453.90,135.55 L454.15,135.66 L454.40,135.72 L454.65,135.76 L454.90,135.80 L455.15,135.83 L455.40,135.87 L455.65,135.90 L455.90,135.93 L456.15,135.96 L456.40,135.98 L456.65,136.01 L456.90,136.03 L457.15,136.05 L457.40,136.06 L457.65,136.07 L457.90,136.09 L458.15,136.09 L458.40,136.10 L458.65,136.10 L458.90,136.09 L459.15,136.03 L459.40,135.95 L459.65,135.84 L459.90,135.72 L460.15,135.60 L460.40,135.48 L460.65,135.37 L460.90,135.28 L461.15,135.22 L461.40,135.20 L461.65,135.21 L461.90,135.23 L462.15,135.27 L462.40,135.32 L462.65,135.38 L462.90,135.44 L463.15,135.51 L463.40,135.59 L463.65,135.67 L463.90,135.74 L464.15,135.82 L464.40,135.88 L464.65,135.95 L464.90,136.00 L465.15,136.05 L465.40,136.08 L465.65,136.10 L465.90,136.10 L466.15,136.10 L466.40,136.10 L466.65,136.10 L466.90,136.10 L467.15,136.09 L467.40,136.09 L467.65,136.09 L467.90,136.08 L468.15,136.08 L468.40,136.07 L468.65,136.07 L468.90,136.06 L469.15,136.06 L469.40,136.05 L469.65,136.05 L469.90,136.04 L470.15,136.03 L470.40,136.03 L470.65,136.02 L470.90,136.01 L471.15,136.00 L471.40,135.99 L471.65,135.98 L471.90,135.98 L472.15,135.97 L472.40,135.96 L472.65,135.95 L472.90,135.94 L473.15,135.93 L473.40,135.92 L473.65,135.91 L473.90,135.90 L474.15,135.88 L474.40,135.87 L474.65,135.86 L474.90,135.85 L475.15,135.84 L475.40,135.83 L475.65,135.82 L475.90,135.80 L476.15,135.79 L476.40,135.78 L476.65,135.77 L476.90,135.76 L477.15,135.74 L477.40,135.73 L477.65,135.72 L477.90,135.71 L478.15,135.69 L478.40,135.68 L478.65,135.67 L478.90,135.66 L479.15,135.65 L479.40,135.63 L479.65,135.62 L479.90,135.61 L480.15,135.60 L480.40,135.59 L480.65,135.58 L480.90,135.56 L481.15,135.55 L481.40,135.54 L481.65,135.53 L481.90,135.53 L482.15,135.52 L482.40,135.51 L482.65,135.50 L482.90,135.49 L483.15,135.48 L483.40,135.47 L483.65,135.46 L483.90,135.45 L484.15,135.44 L484.40,135.43 L484.65,135.42 L484.90,135.41 L485.15,135.40 L485.40,135.39 L485.65,135.38 L485.90,135.37 L486.15,135.36 L486.40,135.34 L486.65,135.33 L486.90,135.32 L487.15,135.30 L487.40,135.28 L487.65,135.27 L487.90,135.25 L488.15,135.23 L488.40,135.21 L488.65,135.19 L488.90,135.17 L489.15,135.14 L489.40,135.12 L489.65,135.09 L489.90,135.07 L490.15,135.04 L490.40,135.01 L490.65,134.98 L490.90,134.95 L491.15,134.91 L491.40,134.88 L491.65,134.84 L491.90,134.80 L492.15,134.76 L492.40,134.72 L492.65,134.66 L492.90,134.54 L493.15,134.36 L493.40,134.09 L493.65,133.76 L493.90,133.34 L494.15,132.84 L494.40,132.12 L494.65,130.12 L494.90,127.14 L495.15,123.85 L495.40,120.70 L495.65,116.66 L495.90,112.38 L496.15,108.98 L496.40,107.60 L496.65,108.43 L496.90,110.53 L497.15,113.30 L497.40,116.11 L497.65,118.41 L497.90,120.58 L498.15,122.79 L498.40,124.80 L498.65,126.37 L498.90,127.33 L499.15,128.10 L499.40,128.79 L499.65,129.34 L499.90,129.72 L500.15,129.89 L500.40,129.78 L500.65,129.35 L500.90,128.66 L501.15,127.78 L501.40,126.78 L501.65,125.74 L501.90,124.71 L502.15,123.78 L502.40,123.00 L502.65,122.28 L502.90,121.51 L503.15,120.72 L503.40,119.95 L503.65,119.24 L503.90,118.63 L504.15,118.17 L504.40,117.88 L504.65,117.80 L504.90,117.89 L505.15,118.09 L505.40,118.38 L505.65,118.76 L505.90,119.21 L506.15,119.71 L506.40,120.25 L506.65,120.82 L506.90,121.41 L507.15,121.99 L507.40,122.55 L507.65,123.09 L507.90,123.58 L508.15,124.02 L508.40,124.38 L508.65,124.67 L508.90,124.95 L509.15,125.22 L509.40,125.49 L509.65,125.75 L509.90,126.01 L510.15,126.26 L510.40,126.50 L510.65,126.73 L510.90,126.96 L511.15,127.18 L511.40,127.39 L511.65,127.59 L511.90,127.78 L512.15,127.97 L512.40,128.15 L512.65,128.31 L512.90,128.47 L513.15,128.62 L513.40,128.76 L513.65,128.88 L513.90,129.00 L514.15,129.11 L514.40,129.22 L514.65,129.32 L514.90,129.42 L515.15,129.51 L515.40,129.61 L515.65,129.70 L515.90,129.78 L516.15,129.87 L516.40,129.95 L516.65,130.03 L516.90,130.10 L517.15,130.18 L517.40,130.25 L517.65,130.32 L517.90,130.39 L518.15,130.45 L518.40,130.52 L518.65,130.58 L518.90,130.64 L519.15,130.70 L519.40,130.75 L519.65,130.81 L519.90,130.87 L520.15,130.92 L520.40,130.97 L520.65,131.03 L520.90,131.08 L521.15,131.13 L521.40,131.18 L521.65,131.23 L521.90,131.28 L522.15,131.33 L522.40,131.38 L522.65,131.43 L522.90,131.48 L523.15,131.53 L523.40,131.58 L523.65,131.62 L523.90,131.67 L524.15,131.71 L524.40,131.76 L524.65,131.80 L524.90,131.85 L525.15,131.89 L525.40,131.93 L525.65,131.97 L525.90,132.01 L526.15,132.05 L526.40,132.09 L526.65,132.12 L526.90,132.16 L527.15,132.19 L527.40,132.23 L527.65,132.26 L527.90,132.29 L528.15,132.32 L528.40,132.35 L528.65,132.38 L528.90,132.40 L529.15,132.43 L529.40,132.45 L529.65,132.47 L529.90,132.49" fill="none" stroke="#111" stroke-width="1.5" stroke-linejoin="round" stroke-linecap="round" clip-path="url(#c_p2t)"/>
<rect x="314.6" y="53.5" width="215.29999999999995" height="93.5" fill="none" stroke="#111" stroke-width="1.7"/>
<path d="M314.60,236.80 L314.85,236.70 L315.10,236.60 L315.35,236.50 L315.60,236.40 L315.85,236.31 L316.10,236.22 L316.35,236.13 L316.60,236.05 L316.85,235.98 L317.10,235.92 L317.35,235.87 L317.60,235.83 L317.85,235.81 L318.10,235.80 L318.35,235.80 L318.60,235.80 L318.85,235.81 L319.10,235.81 L319.35,235.82 L319.60,235.82 L319.85,235.83 L320.10,235.84 L320.35,235.85 L320.60,235.86 L320.85,235.87 L321.10,235.88 L321.35,235.89 L321.60,235.90 L321.85,235.91 L322.10,235.92 L322.35,235.93 L322.60,235.94 L322.85,235.95 L323.10,235.96 L323.35,235.97 L323.60,235.97 L323.85,235.98 L324.10,235.99 L324.35,235.99 L324.60,236.00 L324.85,236.00 L325.10,236.00 L325.35,235.96 L325.60,235.72 L325.85,235.31 L326.10,234.80 L326.35,234.22 L326.60,233.63 L326.85,233.08 L327.10,232.63 L327.35,232.32 L327.60,232.20 L327.85,232.31 L328.10,232.58 L328.35,232.94 L328.60,233.34 L328.85,233.69 L329.10,233.93 L329.35,234.00 L329.60,233.85 L329.85,233.53 L330.10,233.10 L330.35,232.60 L330.60,232.10 L330.85,231.63 L331.10,231.26 L331.35,231.04 L331.60,231.02 L331.85,231.23 L332.10,231.60 L332.35,232.05 L332.60,232.53 L332.85,232.94 L333.10,233.22 L333.35,233.30 L333.60,233.21 L333.85,233.03 L334.10,232.80 L334.35,232.56 L334.60,232.35 L334.85,232.22 L335.10,232.21 L335.35,232.31 L335.60,232.50 L335.85,232.76 L336.10,233.04 L336.35,233.33 L336.60,233.60 L336.85,233.82 L337.10,233.96 L337.35,233.99 L337.60,233.53 L337.85,232.46 L338.10,230.78 L338.35,228.52 L338.60,222.39 L338.85,208.99 L339.10,193.83 L339.35,175.30 L339.60,152.64 L339.85,124.77 L340.10,64.23 L340.35,20.00 L340.60,20.00 L340.85,20.00 L341.10,64.23 L341.35,125.30 L341.60,153.73 L341.85,172.71 L342.10,187.11 L342.35,198.12 L342.60,207.07 L342.85,214.73 L343.10,220.43 L343.35,223.89 L343.60,226.43 L343.85,228.09 L344.10,229.02 L344.35,229.79 L344.60,230.44 L344.85,230.97 L345.10,231.42 L345.35,231.79 L345.60,232.09 L345.85,232.36 L346.10,232.61 L346.35,232.84 L346.60,233.06 L346.85,233.26 L347.10,233.44 L347.35,233.60 L347.60,233.73 L347.85,233.84 L348.10,233.93 L348.35,233.99 L348.60,234.03 L348.85,234.07 L349.10,234.11 L349.35,234.14 L349.60,234.17 L349.85,234.21 L350.10,234.24 L350.35,234.26 L350.60,234.29 L350.85,234.32 L351.10,234.34 L351.35,234.36 L351.60,234.38 L351.85,234.40 L352.10,234.42 L352.35,234.43 L352.60,234.45 L352.85,234.46 L353.10,234.47 L353.35,234.48 L353.60,234.49 L353.85,234.49 L354.10,234.50 L354.35,234.50 L354.60,234.50 L354.85,234.40 L355.10,234.13 L355.35,233.73 L355.60,233.23 L355.85,232.68 L356.10,232.11 L356.35,231.57 L356.60,231.08 L356.85,230.70 L357.10,230.46 L357.35,230.40 L357.60,230.55 L357.85,230.87 L358.10,231.33 L358.35,231.87 L358.60,232.45 L358.85,233.03 L359.10,233.57 L359.35,234.03 L359.60,234.35 L359.85,234.50 L360.10,234.50 L360.35,234.50 L360.60,234.50 L360.85,234.49 L361.10,234.49 L361.35,234.48 L361.60,234.48 L361.85,234.47 L362.10,234.46 L362.35,234.46 L362.60,234.45 L362.85,234.44 L363.10,234.43 L363.35,234.42 L363.60,234.41 L363.85,234.40 L364.10,234.38 L364.35,234.37 L364.60,234.36 L364.85,234.35 L365.10,234.33 L365.35,234.32 L365.60,234.31 L365.85,234.29 L366.10,234.28 L366.35,234.26 L366.60,234.25 L366.85,234.24 L367.10,234.22 L367.35,234.21 L367.60,234.19 L367.85,234.18 L368.10,234.17 L368.35,234.15 L368.60,234.14 L368.85,234.13 L369.10,234.12 L369.35,234.10 L369.60,234.09 L369.85,234.08 L370.10,234.07 L370.35,234.06 L370.60,234.05 L370.85,234.04 L371.10,234.04 L371.35,234.03 L371.60,234.02 L371.85,234.02 L372.10,234.01 L372.35,234.01 L372.60,234.00 L372.85,234.00 L373.10,234.00 L373.35,234.00 L373.60,234.02 L373.85,234.05 L374.10,234.11 L374.35,234.17 L374.60,234.24 L374.85,234.31 L375.10,234.37 L375.35,234.43 L375.60,234.47 L375.85,234.50 L376.10,234.41 L376.35,233.45 L376.60,231.51 L376.85,228.66 L377.10,225.00 L377.35,215.26 L377.60,200.00 L377.85,183.12 L378.10,162.00 L378.35,135.29 L378.60,100.00 L378.85,36.25 L379.10,20.00 L379.35,20.00 L379.60,20.00 L379.85,20.00 L380.10,20.00 L380.35,20.00 L380.60,52.05 L380.85,107.98 L381.10,142.44 L381.35,165.78 L381.60,182.35 L381.85,194.73 L382.10,202.84 L382.35,209.07 L382.60,214.13 L382.85,218.13 L383.10,221.20 L383.35,223.73 L383.60,226.03 L383.85,228.08 L384.10,229.87 L384.35,231.38 L384.60,232.58 L384.85,233.46 L385.10,234.11 L385.35,234.65 L385.60,234.97 L385.85,234.92 L386.10,234.50 L386.35,233.81 L386.60,233.00 L386.85,232.19 L387.10,231.50 L387.35,231.08 L387.60,231.01 L387.85,231.09 L388.10,231.24 L388.35,231.46 L388.60,231.72 L388.85,232.03 L389.10,232.36 L389.35,232.71 L389.60,233.06 L389.85,233.39 L390.10,233.71 L390.35,233.99 L390.60,234.22 L390.85,234.40 L391.10,234.50 L391.35,234.56 L391.60,234.62 L391.85,234.67 L392.10,234.73 L392.35,234.77 L392.60,234.82 L392.85,234.86 L393.10,234.89 L393.35,234.93 L393.60,234.95 L393.85,234.97 L394.10,234.99 L394.35,235.00 L394.60,235.00 L394.85,234.98 L395.10,234.91 L395.35,234.81 L395.60,234.69 L395.85,234.56 L396.10,234.42 L396.35,234.28 L396.60,234.17 L396.85,234.07 L397.10,234.02 L397.35,234.00 L397.60,234.02 L397.85,234.05 L398.10,234.11 L398.35,234.17 L398.60,234.24 L398.85,234.31 L399.10,234.37 L399.35,234.43 L399.60,234.47 L399.85,234.50 L400.10,234.49 L400.35,234.35 L400.60,234.07 L400.85,233.70 L401.10,233.25 L401.35,232.76 L401.60,232.25 L401.85,231.75 L402.10,231.29 L402.35,230.89 L402.60,230.60 L402.85,230.43 L403.10,230.41 L403.35,230.51 L403.60,230.69 L403.85,230.94 L404.10,231.23 L404.35,231.55 L404.60,231.87 L404.85,232.16 L405.10,232.41 L405.35,232.59 L405.60,232.69 L405.85,232.61 L406.10,232.13 L406.35,231.31 L406.60,230.25 L406.85,229.05 L407.10,227.81 L407.35,226.63 L407.60,225.60 L407.85,224.84 L408.10,224.44 L408.35,224.46 L408.60,224.79 L408.85,225.37 L409.10,226.13 L409.35,227.01 L409.60,227.95 L409.85,228.89 L410.10,229.77 L410.35,230.53 L410.60,231.11 L410.85,231.44 L411.10,231.44 L411.35,230.80 L411.60,229.57 L411.85,227.91 L412.10,225.95 L412.35,223.85 L412.60,221.75 L412.85,219.79 L413.10,218.13 L413.35,216.90 L413.60,216.26 L413.85,216.26 L414.10,216.60 L414.35,217.20 L414.60,218.03 L414.85,219.04 L415.10,220.20 L415.35,221.46 L415.60,222.79 L415.85,224.14 L416.10,225.48 L416.35,226.76 L416.60,227.94 L416.85,228.98 L417.10,229.85 L417.35,230.50 L417.60,230.90 L417.85,230.94 L418.10,228.89 L418.35,224.61 L418.60,218.95 L418.85,212.80 L419.10,207.02 L419.35,201.82 L419.60,195.58 L419.85,189.30 L420.10,184.27 L420.35,181.78 L420.60,182.66 L420.85,185.97 L421.10,190.67 L421.35,195.70 L421.60,200.00 L421.85,203.92 L422.10,208.29 L422.35,212.77 L422.60,217.03 L422.85,220.76 L423.10,223.63 L423.35,225.30 L423.60,225.14 L423.85,220.56 L424.10,212.58 L424.35,202.85 L424.60,186.94 L424.85,166.25 L425.10,143.54 L425.35,117.06 L425.60,87.89 L425.85,53.24 L426.10,20.00 L426.35,20.00 L426.60,20.00 L426.85,20.00 L427.10,20.00 L427.35,20.00 L427.60,20.00 L427.85,20.00 L428.10,20.00 L428.35,20.00 L428.60,20.00 L428.85,20.00 L429.10,20.00 L429.35,20.00 L429.60,20.00 L429.85,20.00 L430.10,20.00 L430.35,20.00 L430.60,20.00 L430.85,20.00 L431.10,20.00 L431.35,20.00 L431.60,20.00 L431.85,35.13 L432.10,73.93 L432.35,105.95 L432.60,135.64 L432.85,158.88 L433.10,172.09 L433.35,182.08 L433.60,189.85 L433.85,196.20 L434.10,201.92 L434.35,207.05 L434.60,211.36 L434.85,214.63 L435.10,216.75 L435.35,218.51 L435.60,220.09 L435.85,221.40 L436.10,222.36 L436.35,222.91 L436.60,222.68 L436.85,219.55 L437.10,214.15 L437.35,207.83 L437.60,201.93 L437.85,197.11 L438.10,191.73 L438.35,186.65 L438.60,183.04 L438.85,182.04 L439.10,183.47 L439.35,186.44 L439.60,190.36 L439.85,194.62 L440.10,198.61 L440.35,202.05 L440.60,205.80 L440.85,209.70 L441.10,213.50 L441.35,216.91 L441.60,219.66 L441.85,221.50 L442.10,222.93 L442.35,224.28 L442.60,225.52 L442.85,226.66 L443.10,227.68 L443.35,228.58 L443.60,229.36 L443.85,230.00 L444.10,230.51 L444.35,230.86 L444.60,231.07 L444.85,231.25 L445.10,231.41 L445.35,231.55 L445.60,231.67 L445.85,231.77 L446.10,231.84 L446.35,231.88 L446.60,231.90 L446.85,231.85 L447.10,231.73 L447.35,231.53 L447.60,231.27 L447.85,230.97 L448.10,230.63 L448.35,230.27 L448.60,229.89 L448.85,229.52 L449.10,229.15 L449.35,228.81 L449.60,228.51 L449.85,228.25 L450.10,228.00 L450.35,227.72 L450.60,227.44 L450.85,227.16 L451.10,226.88 L451.35,226.62 L451.60,226.37 L451.85,226.14 L452.10,225.95 L452.35,225.79 L452.60,225.67 L452.85,225.61 L453.10,225.61 L453.35,225.75 L453.60,226.01 L453.85,226.37 L454.10,226.81 L454.35,227.30 L454.60,227.82 L454.85,228.35 L455.10,228.85 L455.35,229.31 L455.60,229.69 L455.85,229.98 L456.10,230.16 L456.35,230.32 L456.60,230.47 L456.85,230.61 L457.10,230.75 L457.35,230.87 L457.60,230.99 L457.85,231.10 L458.10,231.20 L458.35,231.29 L458.60,231.36 L458.85,231.42 L459.10,231.46 L459.35,231.49 L459.60,231.50 L459.85,231.47 L460.10,231.37 L460.35,231.24 L460.60,231.07 L460.85,230.88 L461.10,230.68 L461.35,230.50 L461.60,230.33 L461.85,230.20 L462.10,230.12 L462.35,230.10 L462.60,230.21 L462.85,230.41 L463.10,230.65 L463.35,230.86 L463.60,230.99 L463.85,230.95 L464.10,230.70 L464.35,230.29 L464.60,229.80 L464.85,229.31 L465.10,228.90 L465.35,228.65 L465.60,228.61 L465.85,228.71 L466.10,228.90 L466.35,229.17 L466.60,229.48 L466.85,229.83 L467.10,230.19 L467.35,230.55 L467.60,230.87 L467.85,231.15 L468.10,231.36 L468.35,231.48 L468.60,231.50 L468.85,231.50 L469.10,231.49 L469.35,231.48 L469.60,231.47 L469.85,231.45 L470.10,231.43 L470.35,231.42 L470.60,231.39 L470.85,231.37 L471.10,231.35 L471.35,231.32 L471.60,231.29 L471.85,231.27 L472.10,231.24 L472.35,231.21 L472.60,231.19 L472.85,231.16 L473.10,231.13 L473.35,231.11 L473.60,231.08 L473.85,231.06 L474.10,231.04 L474.35,231.02 L474.60,231.01 L474.85,230.99 L475.10,230.98 L475.35,230.97 L475.60,230.95 L475.85,230.94 L476.10,230.93 L476.35,230.92 L476.60,230.91 L476.85,230.90 L477.10,230.89 L477.35,230.88 L477.60,230.88 L477.85,230.87 L478.10,230.86 L478.35,230.86 L478.60,230.85 L478.85,230.84 L479.10,230.84 L479.35,230.83 L479.60,230.82 L479.85,230.82 L480.10,230.81 L480.35,230.81 L480.60,230.80 L480.85,230.80 L481.10,230.79 L481.35,230.79 L481.60,230.78 L481.85,230.77 L482.10,230.77 L482.35,230.76 L482.60,230.76 L482.85,230.75 L483.10,230.74 L483.35,230.73 L483.60,230.73 L483.85,230.72 L484.10,230.71 L484.35,230.70 L484.60,230.69 L484.85,230.68 L485.10,230.67 L485.35,230.66 L485.60,230.65 L485.85,230.63 L486.10,230.62 L486.35,230.61 L486.60,230.59 L486.85,230.58 L487.10,230.56 L487.35,230.54 L487.60,230.52 L487.85,230.50 L488.10,230.48 L488.35,230.46 L488.60,230.44 L488.85,230.41 L489.10,230.39 L489.35,230.35 L489.60,230.29 L489.85,230.20 L490.10,230.08 L490.35,229.92 L490.60,229.73 L490.85,229.49 L491.10,229.20 L491.35,227.84 L491.60,224.45 L491.85,219.10 L492.10,209.43 L492.35,180.92 L492.60,150.12 L492.85,118.45 L493.10,87.26 L493.35,50.99 L493.60,20.00 L493.85,20.00 L494.10,20.00 L494.35,49.78 L494.60,93.87 L494.85,124.60 L495.10,148.19 L495.35,168.72 L495.60,180.77 L495.85,179.09 L496.10,164.13 L496.35,142.24 L496.60,120.00 L496.85,93.87 L497.10,61.10 L497.35,29.44 L497.60,20.00 L497.85,20.00 L498.10,20.00 L498.35,31.01 L498.60,57.47 L498.85,84.98 L499.10,110.24 L499.35,139.23 L499.60,162.00 L499.85,175.44 L500.10,185.89 L500.35,193.72 L500.60,199.59 L500.85,204.43 L501.10,208.41 L501.35,211.71 L501.60,214.72 L501.85,217.61 L502.10,219.69 L502.35,220.28 L502.60,219.73 L502.85,218.52 L503.10,216.80 L503.35,214.72 L503.60,212.44 L503.85,210.12 L504.10,207.92 L504.35,205.97 L504.60,204.39 L504.85,202.78 L505.10,201.07 L505.35,199.36 L505.60,197.71 L505.85,196.21 L506.10,194.94 L506.35,193.96 L506.60,193.36 L506.85,193.20 L507.10,193.34 L507.35,193.66 L507.60,194.14 L507.85,194.75 L508.10,195.48 L508.35,196.30 L508.60,197.20 L508.85,198.13 L509.10,199.10 L509.35,200.07 L509.60,201.02 L509.85,201.93 L510.10,202.78 L510.35,203.55 L510.60,204.31 L510.85,205.11 L511.10,205.94 L511.35,206.78 L511.60,207.62 L511.85,208.47 L512.10,209.30 L512.35,210.11 L512.60,210.89 L512.85,211.63 L513.10,212.32 L513.35,212.95 L513.60,213.52 L513.85,214.01 L514.10,214.44 L514.35,214.85 L514.60,215.25 L514.85,215.63 L515.10,215.99 L515.35,216.34 L515.60,216.68 L515.85,217.00 L516.10,217.31 L516.35,217.61 L516.60,217.90 L516.85,218.18 L517.10,218.44 L517.35,218.70 L517.60,218.94 L517.85,219.18 L518.10,219.40 L518.35,219.62 L518.60,219.83 L518.85,220.03 L519.10,220.22 L519.35,220.41 L519.60,220.59 L519.85,220.77 L520.10,220.94 L520.35,221.10 L520.60,221.26 L520.85,221.41 L521.10,221.56 L521.35,221.70 L521.60,221.84 L521.85,221.97 L522.10,222.10 L522.35,222.23 L522.60,222.36 L522.85,222.48 L523.10,222.60 L523.35,222.72 L523.60,222.84 L523.85,222.95 L524.10,223.07 L524.35,223.19 L524.60,223.30 L524.85,223.42 L525.10,223.55 L525.35,223.68 L525.60,223.81 L525.85,223.95 L526.10,224.08 L526.35,224.20 L526.60,224.32 L526.85,224.42 L527.10,224.52 L527.35,224.59 L527.60,224.65 L527.85,224.69 L528.10,224.70 L528.35,224.53 L528.60,224.06 L528.85,223.38 L529.10,222.57 L529.35,221.71" fill="none" stroke="#111" stroke-width="1.7" stroke-linejoin="round" stroke-linecap="round" clip-path="url(#c_p2b)"/>
<rect x="312.8" y="162.1" width="217.09999999999997" height="91.20000000000002" fill="none" stroke="#111" stroke-width="1.8"/>
<path d="M564.90,138.40 L565.15,138.36 L565.40,138.33 L565.65,138.29 L565.90,138.26 L566.15,138.22 L566.40,138.19 L566.65,138.15 L566.90,138.12 L567.15,138.09 L567.40,138.05 L567.65,138.02 L567.90,137.98 L568.15,137.95 L568.40,137.92 L568.65,137.88 L568.90,137.85 L569.15,137.82 L569.40,137.79 L569.65,137.75 L569.90,137.72 L570.15,137.69 L570.40,137.66 L570.65,137.63 L570.90,137.60 L571.15,137.57 L571.40,137.54 L571.65,137.51 L571.90,137.48 L572.15,137.45 L572.40,137.43 L572.65,137.40 L572.90,137.37 L573.15,137.35 L573.40,137.32 L573.65,137.29 L573.90,137.27 L574.15,137.24 L574.40,137.22 L574.65,137.20 L574.90,137.17 L575.15,137.15 L575.40,137.13 L575.65,137.11 L575.90,137.09 L576.15,137.06 L576.40,137.05 L576.65,137.03 L576.90,137.01 L577.15,136.99 L577.40,136.97 L577.65,136.95 L577.90,136.94 L578.15,136.92 L578.40,136.90 L578.65,136.89 L578.90,136.87 L579.15,136.85 L579.40,136.84 L579.65,136.82 L579.90,136.81 L580.15,136.79 L580.40,136.78 L580.65,136.76 L580.90,136.75 L581.15,136.73 L581.40,136.72 L581.65,136.70 L581.90,136.69 L582.15,136.67 L582.40,136.66 L582.65,136.65 L582.90,136.63 L583.15,136.62 L583.40,136.61 L583.65,136.59 L583.90,136.58 L584.15,136.57 L584.40,136.56 L584.65,136.54 L584.90,136.53 L585.15,136.52 L585.40,136.51 L585.65,136.50 L585.90,136.48 L586.15,136.47 L586.40,136.46 L586.65,136.45 L586.90,136.44 L587.15,136.43 L587.40,136.42 L587.65,136.40 L587.90,136.39 L588.15,136.38 L588.40,136.37 L588.65,136.36 L588.90,136.35 L589.15,136.34 L589.40,136.33 L589.65,136.32 L589.90,136.31 L590.15,136.30 L590.40,136.28 L590.65,136.27 L590.90,136.26 L591.15,136.25 L591.40,136.24 L591.65,136.23 L591.90,136.22 L592.15,136.21 L592.40,136.20 L592.65,136.19 L592.90,136.18 L593.15,136.17 L593.40,136.16 L593.65,136.15 L593.90,136.14 L594.15,136.13 L594.40,136.12 L594.65,136.11 L594.90,136.10 L595.15,136.09 L595.40,136.08 L595.65,136.07 L595.90,136.06 L596.15,136.05 L596.40,136.04 L596.65,136.03 L596.90,136.02 L597.15,136.01 L597.40,136.01 L597.65,136.00 L597.90,135.99 L598.15,135.98 L598.40,135.98 L598.65,135.97 L598.90,135.96 L599.15,135.96 L599.40,135.95 L599.65,135.94 L599.90,135.94 L600.15,135.93 L600.40,135.93 L600.65,135.92 L600.90,135.92 L601.15,135.91 L601.40,135.91 L601.65,135.90 L601.90,135.89 L602.15,135.89 L602.40,135.89 L602.65,135.88 L602.90,135.88 L603.15,135.87 L603.40,135.87 L603.65,135.86 L603.90,135.86 L604.15,135.85 L604.40,135.85 L604.65,135.84 L604.90,135.84 L605.15,135.83 L605.40,135.83 L605.65,135.82 L605.90,135.82 L606.15,135.81 L606.40,135.81 L606.65,135.80 L606.90,135.80 L607.15,135.79 L607.40,135.79 L607.65,135.78 L607.90,135.78 L608.15,135.77 L608.40,135.76 L608.65,135.76 L608.90,135.75 L609.15,135.75 L609.40,135.74 L609.65,135.73 L609.90,135.73 L610.15,135.72 L610.40,135.71 L610.65,135.70 L610.90,135.70 L611.15,135.69 L611.40,135.68 L611.65,135.67 L611.90,135.66 L612.15,135.65 L612.40,135.64 L612.65,135.63 L612.90,135.62 L613.15,135.61 L613.40,135.60 L613.65,135.59 L613.90,135.58 L614.15,135.57 L614.40,135.56 L614.65,135.54 L614.90,135.53 L615.15,135.52 L615.40,135.50 L615.65,135.49 L615.90,135.48 L616.15,135.46 L616.40,135.45 L616.65,135.43 L616.90,135.41 L617.15,135.40 L617.40,135.38 L617.65,135.36 L617.90,135.34 L618.15,135.33 L618.40,135.31 L618.65,135.29 L618.90,135.27 L619.15,135.25 L619.40,135.23 L619.65,135.20 L619.90,135.16 L620.15,135.07 L620.40,134.94 L620.65,134.78 L620.90,134.59 L621.15,134.39 L621.40,134.18 L621.65,133.98 L621.90,133.80 L622.15,133.64 L622.40,133.51 L622.65,133.43 L622.90,133.40 L623.15,133.45 L623.40,133.57 L623.65,133.75 L623.90,133.96 L624.15,134.18 L624.40,134.38 L624.65,134.55 L624.90,134.67 L625.15,134.70 L625.40,134.71 L625.65,134.71 L625.90,134.72 L626.15,134.72 L626.40,134.73 L626.65,134.73 L626.90,134.73 L627.15,134.74 L627.40,134.74 L627.65,134.75 L627.90,134.75 L628.15,134.75 L628.40,134.76 L628.65,134.76 L628.90,134.76 L629.15,134.77 L629.40,134.77 L629.65,134.77 L629.90,134.77 L630.15,134.78 L630.40,134.78 L630.65,134.78 L630.90,134.78 L631.15,134.78 L631.40,134.79 L631.65,134.79 L631.90,134.79 L632.15,134.79 L632.40,134.79 L632.65,134.79 L632.90,134.79 L633.15,134.79 L633.40,134.80 L633.65,134.80 L633.90,134.80 L634.15,134.80 L634.40,134.80 L634.65,134.80 L634.90,134.80 L635.15,134.80 L635.40,134.80 L635.65,134.80 L635.90,134.80 L636.15,134.80 L636.40,134.80 L636.65,134.80 L636.90,134.72 L637.15,134.55 L637.40,134.31 L637.65,134.03 L637.90,133.73 L638.15,133.45 L638.40,133.20 L638.65,133.01 L638.90,132.91 L639.15,132.91 L639.40,132.94 L639.65,133.01 L639.90,133.09 L640.15,133.20 L640.40,133.31 L640.65,133.42 L640.90,133.53 L641.15,133.62 L641.40,133.71 L641.65,133.77 L641.90,133.80 L642.15,133.80 L642.40,133.79 L642.65,133.77 L642.90,133.74 L643.15,133.71 L643.40,133.68 L643.65,133.64 L643.90,133.60 L644.15,133.56 L644.40,133.52 L644.65,133.49 L644.90,133.46 L645.15,133.43 L645.40,133.41 L645.65,133.39 L645.90,133.38 L646.15,133.37 L646.40,133.35 L646.65,133.34 L646.90,133.33 L647.15,133.32 L647.40,133.31 L647.65,133.31 L647.90,133.30 L648.15,133.29 L648.40,133.28 L648.65,133.28 L648.90,133.27 L649.15,133.27 L649.40,133.26 L649.65,133.26 L649.90,133.25 L650.15,133.25 L650.40,133.25 L650.65,133.24 L650.90,133.24 L651.15,133.24 L651.40,133.23 L651.65,133.23 L651.90,133.23 L652.15,133.22 L652.40,133.22 L652.65,133.22 L652.90,133.22 L653.15,133.21 L653.40,133.21 L653.65,133.21 L653.90,133.20 L654.15,133.20 L654.40,133.20 L654.65,133.19 L654.90,133.19 L655.15,133.18 L655.40,133.18 L655.65,133.17 L655.90,133.16 L656.15,133.16 L656.40,133.15 L656.65,133.14 L656.90,133.13 L657.15,133.12 L657.40,133.11 L657.65,133.10 L657.90,133.09 L658.15,133.08 L658.40,133.06 L658.65,133.05 L658.90,133.04 L659.15,133.02 L659.40,133.00 L659.65,132.99 L659.90,132.97 L660.15,132.95 L660.40,132.93 L660.65,132.90 L660.90,132.70 L661.15,131.97 L661.40,130.76 L661.65,129.14 L661.90,126.79 L662.15,120.96 L662.40,113.13 L662.65,104.92 L662.90,95.02 L663.15,85.10 L663.40,76.79 L663.65,68.24 L663.90,60.85 L664.15,57.03 L664.40,59.01 L664.65,65.84 L664.90,74.28 L665.15,81.17 L665.40,87.12 L665.65,93.10 L665.90,98.82 L666.15,104.02 L666.40,108.43 L666.65,111.79 L666.90,114.49 L667.15,116.83 L667.40,118.89 L667.65,120.71 L667.90,122.37 L668.15,123.94 L668.40,125.46 L668.65,126.85 L668.90,128.02 L669.15,128.88 L669.40,129.46 L669.65,130.00 L669.90,130.48 L670.15,130.90 L670.40,131.24 L670.65,131.47 L670.90,131.59 L671.15,131.54 L671.40,131.18 L671.65,130.50 L671.90,129.49 L672.15,126.92 L672.40,118.88 L672.65,107.29 L672.90,85.84 L673.15,59.75 L673.40,36.72 L673.65,20.00 L673.90,20.00 L674.15,20.00 L674.40,20.00 L674.65,20.00 L674.90,20.00 L675.15,20.00 L675.40,20.00 L675.65,20.00 L675.90,20.00 L676.15,20.00 L676.40,20.00 L676.65,20.00 L676.90,20.00 L677.15,20.00 L677.40,20.00 L677.65,20.00 L677.90,20.00 L678.15,20.00 L678.40,20.00 L678.65,20.00 L678.90,20.00 L679.15,20.00 L679.40,20.00 L679.65,20.00 L679.90,20.00 L680.15,20.00 L680.40,20.00 L680.65,20.00 L680.90,20.00 L681.15,20.00 L681.40,20.00 L681.65,20.00 L681.90,20.00 L682.15,20.00 L682.40,39.11 L682.65,58.26 L682.90,73.59 L683.15,86.30 L683.40,95.00 L683.65,100.47 L683.90,104.69 L684.15,108.12 L684.40,111.20 L684.65,114.27 L684.90,117.30 L685.15,120.16 L685.40,122.72 L685.65,124.85 L685.90,126.43 L686.15,127.33 L686.40,127.95 L686.65,128.52 L686.90,129.02 L687.15,129.48 L687.40,129.87 L687.65,130.21 L687.90,130.50 L688.15,130.73 L688.40,130.92 L688.65,131.05 L688.90,131.13 L689.15,131.20 L689.40,131.27 L689.65,131.33 L689.90,131.39 L690.15,131.45 L690.40,131.50 L690.65,131.55 L690.90,131.59 L691.15,131.63 L691.40,131.67 L691.65,131.70 L691.90,131.73 L692.15,131.75 L692.40,131.77 L692.65,131.78 L692.90,131.79 L693.15,131.80 L693.40,131.80 L693.65,131.80 L693.90,131.80 L694.15,131.80 L694.40,131.80 L694.65,131.79 L694.90,131.79 L695.15,131.79 L695.40,131.79 L695.65,131.78 L695.90,131.78 L696.15,131.78 L696.40,131.77 L696.65,131.77 L696.90,131.76 L697.15,131.76 L697.40,131.75 L697.65,131.75 L697.90,131.74 L698.15,131.73 L698.40,131.73 L698.65,131.72 L698.90,131.71 L699.15,131.70 L699.40,131.70 L699.65,131.69 L699.90,131.68 L700.15,131.67 L700.40,131.66 L700.65,131.65 L700.90,131.64 L701.15,131.64 L701.40,131.63 L701.65,131.62 L701.90,131.61 L702.15,131.59 L702.40,131.58 L702.65,131.57 L702.90,131.56 L703.15,131.55 L703.40,131.54 L703.65,131.53 L703.90,131.52 L704.15,131.50 L704.40,131.49 L704.65,131.48 L704.90,131.47 L705.15,131.45 L705.40,131.44 L705.65,131.43 L705.90,131.42 L706.15,131.40 L706.40,131.39 L706.65,131.38 L706.90,131.36 L707.15,131.35 L707.40,131.33 L707.65,131.32 L707.90,131.31 L708.15,131.29 L708.40,131.28 L708.65,131.26 L708.90,131.25 L709.15,131.23 L709.40,131.22 L709.65,131.21 L709.90,131.19 L710.15,131.18 L710.40,131.16 L710.65,131.15 L710.90,131.13 L711.15,131.12 L711.40,131.10 L711.65,131.09 L711.90,131.07 L712.15,131.06 L712.40,131.04 L712.65,131.03 L712.90,131.01 L713.15,131.00 L713.40,130.98 L713.65,130.97 L713.90,130.95 L714.15,130.94 L714.40,130.92 L714.65,130.91 L714.90,130.89 L715.15,130.88 L715.40,130.86 L715.65,130.85 L715.90,130.83 L716.15,130.82 L716.40,130.80 L716.65,130.79 L716.90,130.77 L717.15,130.76 L717.40,130.75 L717.65,130.73 L717.90,130.72 L718.15,130.70 L718.40,130.69 L718.65,130.68 L718.90,130.66 L719.15,130.65 L719.40,130.64 L719.65,130.63 L719.90,130.61 L720.15,130.60 L720.40,130.59 L720.65,130.58 L720.90,130.57 L721.15,130.56 L721.40,130.55 L721.65,130.54 L721.90,130.53 L722.15,130.52 L722.40,130.52 L722.65,130.51 L722.90,130.50 L723.15,130.49 L723.40,130.48 L723.65,130.47 L723.90,130.47 L724.15,130.46 L724.40,130.45 L724.65,130.44 L724.90,130.44 L725.15,130.43 L725.40,130.42 L725.65,130.41 L725.90,130.41 L726.15,130.40 L726.40,130.39 L726.65,130.38 L726.90,130.38 L727.15,130.37 L727.40,130.36 L727.65,130.35 L727.90,130.34 L728.15,130.34 L728.40,130.33 L728.65,130.32 L728.90,130.31 L729.15,130.30 L729.40,130.29 L729.65,130.29 L729.90,130.28 L730.15,130.27 L730.40,130.26 L730.65,130.25 L730.90,130.24 L731.15,130.23 L731.40,130.21 L731.65,130.20 L731.90,130.19 L732.15,130.18 L732.40,130.17 L732.65,130.16 L732.90,130.14 L733.15,130.13 L733.40,130.12 L733.65,130.10 L733.90,130.09 L734.15,130.07 L734.40,130.06 L734.65,130.04 L734.90,130.02 L735.15,130.01 L735.40,129.99 L735.65,129.97 L735.90,129.95 L736.15,129.93 L736.40,129.91 L736.65,129.89 L736.90,129.87 L737.15,129.85 L737.40,129.83 L737.65,129.80 L737.90,129.78 L738.15,129.75 L738.40,129.73 L738.65,129.70 L738.90,129.68 L739.15,129.65 L739.40,129.62 L739.65,129.59 L739.90,129.56 L740.15,129.53 L740.40,129.50 L740.65,129.47 L740.90,129.44 L741.15,129.40 L741.40,129.37 L741.65,129.33 L741.90,129.30 L742.15,129.26 L742.40,129.22 L742.65,129.18 L742.90,129.14 L743.15,129.10 L743.40,129.06 L743.65,129.01 L743.90,128.97 L744.15,128.92 L744.40,128.88 L744.65,128.83 L744.90,128.78 L745.15,128.73 L745.40,128.68 L745.65,128.63 L745.90,128.53 L746.15,127.95 L746.40,126.90 L746.65,125.53 L746.90,123.96 L747.15,122.32 L747.40,120.24 L747.65,117.17 L747.90,113.92 L748.15,111.35 L748.40,110.30 L748.65,110.94 L748.90,112.59 L749.15,114.79 L749.40,117.11 L749.65,119.13 L749.90,120.48 L750.15,121.69 L750.40,122.89 L750.65,124.00 L750.90,124.97 L751.15,125.71 L751.40,126.18 L751.65,126.29 L751.90,126.09 L752.15,125.64 L752.40,124.99 L752.65,124.19 L752.90,123.30 L753.15,122.35 L753.40,121.41 L753.65,120.52 L753.90,119.74 L754.15,119.10 L754.40,118.59 L754.65,118.07 L754.90,117.54 L755.15,117.02 L755.40,116.53 L755.65,116.06 L755.90,115.65 L756.15,115.29 L756.40,115.01 L756.65,114.81 L756.90,114.71 L757.15,114.71 L757.40,114.79 L757.65,114.92 L757.90,115.12 L758.15,115.36 L758.40,115.65 L758.65,115.98 L758.90,116.34 L759.15,116.73 L759.40,117.15 L759.65,117.57 L759.90,118.01 L760.15,118.46 L760.40,118.90 L760.65,119.33 L760.90,119.76 L761.15,120.16 L761.40,120.54 L761.65,120.89 L761.90,121.20 L762.15,121.48 L762.40,121.70 L762.65,121.87 L762.90,122.00 L763.15,122.13 L763.40,122.25 L763.65,122.37 L763.90,122.48 L764.15,122.59 L764.40,122.70 L764.65,122.80 L764.90,122.90 L765.15,122.99 L765.40,123.08 L765.65,123.17 L765.90,123.26 L766.15,123.34 L766.40,123.42 L766.65,123.49 L766.90,123.56 L767.15,123.63 L767.40,123.70 L767.65,123.76 L767.90,123.82 L768.15,123.88 L768.40,123.93 L768.65,123.99 L768.90,124.04 L769.15,124.08 L769.40,124.13 L769.65,124.17 L769.90,124.22 L770.15,124.26 L770.40,124.30 L770.65,124.34 L770.90,124.38 L771.15,124.42 L771.40,124.46 L771.65,124.50 L771.90,124.54 L772.15,124.58 L772.40,124.62 L772.65,124.66 L772.90,124.70 L773.15,124.73 L773.40,124.77 L773.65,124.81 L773.90,124.84 L774.15,124.87 L774.40,124.91 L774.65,124.94 L774.90,124.97 L775.15,125.00 L775.40,125.03 L775.65,125.06 L775.90,125.09 L776.15,125.12 L776.40,125.15 L776.65,125.17 L776.90,125.19 L777.15,125.22 L777.40,125.24 L777.65,125.26 L777.90,125.28 L778.15,125.30 L778.40,125.31 L778.65,125.33 L778.90,125.34 L779.15,125.36 L779.40,125.37 L779.65,125.38 L779.90,125.38 L780.15,125.39 L780.40,125.40 L780.65,125.40 L780.90,125.40" fill="none" stroke="#111" stroke-width="1.5" stroke-linejoin="round" stroke-linecap="round" clip-path="url(#c_p3t)"/>
<rect x="564.6" y="53.5" width="216.69999999999993" height="93.6" fill="none" stroke="#111" stroke-width="1.7"/>
<path d="M564.90,237.20 L565.15,237.15 L565.40,237.10 L565.65,237.05 L565.90,237.00 L566.15,236.94 L566.40,236.89 L566.65,236.84 L566.90,236.79 L567.15,236.73 L567.40,236.68 L567.65,236.63 L567.90,236.58 L568.15,236.52 L568.40,236.47 L568.65,236.42 L568.90,236.36 L569.15,236.31 L569.40,236.25 L569.65,236.20 L569.90,236.14 L570.15,236.09 L570.40,236.03 L570.65,235.98 L570.90,235.92 L571.15,235.87 L571.40,235.82 L571.65,235.77 L571.90,235.72 L572.15,235.67 L572.40,235.63 L572.65,235.59 L572.90,235.55 L573.15,235.51 L573.40,235.46 L573.65,235.42 L573.90,235.37 L574.15,235.33 L574.40,235.28 L574.65,235.23 L574.90,235.17 L575.15,235.11 L575.40,235.05 L575.65,234.98 L575.90,234.90 L576.15,234.82 L576.40,234.74 L576.65,234.64 L576.90,234.54 L577.15,234.43 L577.40,234.26 L577.65,234.06 L577.90,233.81 L578.15,233.53 L578.40,233.21 L578.65,232.86 L578.90,232.48 L579.15,232.08 L579.40,231.57 L579.65,230.79 L579.90,229.85 L580.15,228.86 L580.40,227.92 L580.65,227.15 L580.90,226.64 L581.15,226.51 L581.40,226.71 L581.65,227.16 L581.90,227.78 L582.15,228.49 L582.40,229.24 L582.65,229.94 L582.90,230.54 L583.15,230.95 L583.40,231.19 L583.65,231.43 L583.90,231.66 L584.15,231.88 L584.40,232.09 L584.65,232.29 L584.90,232.48 L585.15,232.65 L585.40,232.82 L585.65,232.97 L585.90,233.11 L586.15,233.23 L586.40,233.34 L586.65,233.43 L586.90,233.50 L587.15,233.55 L587.40,233.59 L587.65,233.60 L587.90,233.58 L588.15,233.51 L588.40,233.39 L588.65,233.22 L588.90,233.01 L589.15,232.77 L589.40,232.50 L589.65,232.21 L589.90,231.89 L590.15,231.57 L590.40,231.11 L590.65,230.35 L590.90,229.47 L591.15,228.65 L591.40,228.07 L591.65,227.90 L591.90,228.05 L592.15,228.34 L592.40,228.70 L592.65,229.06 L592.90,229.35 L593.15,229.50 L593.40,229.32 L593.65,228.66 L593.90,227.59 L594.15,226.23 L594.40,224.66 L594.65,223.00 L594.90,221.20 L595.15,218.29 L595.40,214.64 L595.65,210.99 L595.90,208.08 L596.15,206.65 L596.40,207.18 L596.65,209.23 L596.90,212.17 L597.15,215.40 L597.40,218.31 L597.65,220.32 L597.90,221.90 L598.15,223.40 L598.40,224.80 L598.65,226.06 L598.90,227.17 L599.15,228.09 L599.40,228.79 L599.65,229.28 L599.90,229.74 L600.15,230.18 L600.40,230.59 L600.65,230.97 L600.90,231.32 L601.15,231.64 L601.40,231.92 L601.65,232.17 L601.90,232.37 L602.15,232.52 L602.40,232.63 L602.65,232.69 L602.90,232.70 L603.15,232.69 L603.40,232.67 L603.65,232.64 L603.90,232.61 L604.15,232.56 L604.40,232.51 L604.65,232.45 L604.90,232.38 L605.15,232.31 L605.40,232.22 L605.65,232.13 L605.90,232.04 L606.15,231.90 L606.40,231.60 L606.65,231.16 L606.90,230.63 L607.15,230.08 L607.40,229.55 L607.65,229.09 L607.90,228.76 L608.15,228.60 L608.40,228.66 L608.65,228.86 L608.90,229.17 L609.15,229.56 L609.40,229.96 L609.65,230.35 L609.90,230.68 L610.15,230.91 L610.40,231.00 L610.65,230.89 L610.90,230.59 L611.15,230.16 L611.40,229.66 L611.65,229.13 L611.90,228.64 L612.15,228.24 L612.40,227.97 L612.65,227.90 L612.90,228.01 L613.15,228.24 L613.40,228.57 L613.65,228.97 L613.90,229.42 L614.15,229.89 L614.40,230.34 L614.65,230.75 L614.90,231.10 L615.15,231.36 L615.40,231.49 L615.65,231.50 L615.90,231.49 L616.15,231.49 L616.40,231.47 L616.65,231.46 L616.90,231.43 L617.15,231.41 L617.40,231.38 L617.65,231.35 L617.90,231.31 L618.15,231.27 L618.40,231.23 L618.65,231.18 L618.90,231.13 L619.15,231.08 L619.40,231.02 L619.65,230.94 L619.90,230.72 L620.15,230.38 L620.40,229.94 L620.65,229.42 L620.90,228.84 L621.15,228.22 L621.40,227.59 L621.65,226.96 L621.90,226.35 L622.15,225.79 L622.40,225.30 L622.65,224.89 L622.90,224.60 L623.15,224.43 L623.40,224.41 L623.65,224.53 L623.90,224.76 L624.15,225.08 L624.40,225.47 L624.65,225.92 L624.90,226.40 L625.15,226.90 L625.40,227.39 L625.65,227.87 L625.90,228.29 L626.15,228.66 L626.40,228.95 L626.65,229.13 L626.90,229.20 L627.15,229.04 L627.40,228.56 L627.65,227.80 L627.90,226.77 L628.15,225.49 L628.40,224.00 L628.65,220.95 L628.90,215.46 L629.15,208.24 L629.40,200.00 L629.65,189.52 L629.90,175.46 L630.15,158.35 L630.40,137.05 L630.65,107.35 L630.90,43.70 L631.15,20.00 L631.40,20.00 L631.65,20.00 L631.90,20.00 L632.15,20.00 L632.40,77.67 L632.65,120.85 L632.90,147.35 L633.15,164.93 L633.40,177.51 L633.65,187.24 L633.90,195.00 L634.15,201.83 L634.40,207.97 L634.65,213.11 L634.90,216.92 L635.15,219.40 L635.40,221.54 L635.65,223.28 L635.90,224.40 L636.15,224.61 L636.40,221.70 L636.65,215.85 L636.90,208.55 L637.15,201.31 L637.40,193.84 L637.65,184.33 L637.90,174.82 L638.15,167.52 L638.40,164.60 L638.65,167.27 L638.90,173.87 L639.15,182.25 L639.40,190.27 L639.65,195.89 L639.90,200.20 L640.15,204.22 L640.40,207.82 L640.65,210.87 L640.90,213.26 L641.15,215.00 L641.40,216.63 L641.65,218.17 L641.90,219.62 L642.15,220.96 L642.40,222.16 L642.65,223.21 L642.90,224.10 L643.15,224.80 L643.40,225.29 L643.65,225.56 L643.90,225.58 L644.15,225.35 L644.40,224.92 L644.65,224.34 L644.90,223.67 L645.15,222.96 L645.40,222.26 L645.65,221.56 L645.90,220.63 L646.15,219.59 L646.40,218.59 L646.65,217.79 L646.90,217.34 L647.15,217.35 L647.40,217.62 L647.65,218.08 L647.90,218.70 L648.15,219.43 L648.40,220.23 L648.65,221.04 L648.90,221.82 L649.15,222.53 L649.40,223.12 L649.65,223.56 L649.90,223.78 L650.15,223.78 L650.40,223.66 L650.65,223.45 L650.90,223.19 L651.15,222.90 L651.40,222.61 L651.65,222.35 L651.90,222.14 L652.15,222.02 L652.40,222.01 L652.65,222.11 L652.90,222.29 L653.15,222.56 L653.40,222.87 L653.65,223.23 L653.90,223.60 L654.15,223.97 L654.40,224.33 L654.65,224.65 L654.90,224.91 L655.15,225.12 L655.40,225.34 L655.65,225.55 L655.90,225.77 L656.15,225.98 L656.40,226.18 L656.65,226.36 L656.90,226.53 L657.15,226.67 L657.40,226.78 L657.65,226.86 L657.90,226.90 L658.15,226.89 L658.40,226.86 L658.65,226.80 L658.90,226.70 L659.15,226.58 L659.40,226.44 L659.65,226.27 L659.90,226.07 L660.15,225.86 L660.40,225.63 L660.65,225.37 L660.90,225.11 L661.15,224.82 L661.40,224.52 L661.65,224.18 L661.90,223.69 L662.15,223.06 L662.40,222.30 L662.65,221.44 L662.90,220.49 L663.15,219.48 L663.40,218.43 L663.65,217.22 L663.90,215.44 L664.15,213.33 L664.40,211.21 L664.65,209.37 L664.90,208.14 L665.15,207.82 L665.40,208.47 L665.65,209.85 L665.90,211.69 L666.15,213.72 L666.40,215.67 L666.65,217.30 L666.90,218.39 L667.15,219.37 L667.40,220.33 L667.65,221.23 L667.90,222.02 L668.15,222.66 L668.40,223.10 L668.65,223.29 L668.90,222.73 L669.15,220.70 L669.40,217.66 L669.65,214.12 L669.90,210.57 L670.15,207.51 L670.40,204.84 L670.65,201.89 L670.90,199.24 L671.15,197.52 L671.40,197.36 L671.65,198.90 L671.90,201.51 L672.15,204.45 L672.40,207.00 L672.65,209.42 L672.90,212.06 L673.15,214.33 L673.40,215.66 L673.65,214.45 L673.90,207.62 L674.15,197.72 L674.40,179.75 L674.65,157.55 L674.90,133.05 L675.15,105.70 L675.40,75.12 L675.65,39.07 L675.90,20.00 L676.15,20.00 L676.40,20.00 L676.65,20.00 L676.90,20.00 L677.15,20.00 L677.40,20.00 L677.65,20.00 L677.90,20.00 L678.15,20.00 L678.40,20.00 L678.65,20.00 L678.90,20.00 L679.15,20.00 L679.40,20.00 L679.65,20.00 L679.90,20.00 L680.15,20.00 L680.40,20.00 L680.65,20.00 L680.90,20.00 L681.15,20.00 L681.40,20.00 L681.65,20.00 L681.90,20.00 L682.15,54.87 L682.40,88.18 L682.65,117.88 L682.90,146.60 L683.15,164.40 L683.40,174.67 L683.65,182.60 L683.90,188.83 L684.15,194.03 L684.40,198.75 L684.65,203.03 L684.90,206.74 L685.15,209.77 L685.40,212.00 L685.65,213.76 L685.90,215.35 L686.15,216.57 L686.40,217.24 L686.65,216.94 L686.90,215.05 L687.15,212.08 L687.40,208.70 L687.65,205.55 L687.90,202.55 L688.15,199.00 L688.40,195.70 L688.65,193.52 L688.90,193.22 L689.15,194.47 L689.40,196.68 L689.65,199.41 L689.90,202.20 L690.15,204.61 L690.40,206.52 L690.65,208.46 L690.90,210.37 L691.15,212.21 L691.40,213.89 L691.65,215.38 L691.90,216.60 L692.15,217.56 L692.40,218.49 L692.65,219.38 L692.90,220.22 L693.15,220.97 L693.40,221.61 L693.65,222.11 L693.90,222.45 L694.15,222.60 L694.40,222.57 L694.65,222.45 L694.90,222.26 L695.15,222.01 L695.40,221.71 L695.65,221.40 L695.90,221.07 L696.15,220.75 L696.40,220.45 L696.65,220.19 L696.90,219.98 L697.15,219.85 L697.40,219.80 L697.65,219.86 L697.90,220.04 L698.15,220.30 L698.40,220.63 L698.65,221.00 L698.90,221.40 L699.15,221.80 L699.40,222.17 L699.65,222.50 L699.90,222.76 L700.15,222.94 L700.40,223.00 L700.65,222.98 L700.90,222.92 L701.15,222.82 L701.40,222.70 L701.65,222.56 L701.90,222.41 L702.15,222.25 L702.40,222.09 L702.65,221.94 L702.90,221.80 L703.15,221.68 L703.40,221.58 L703.65,221.52 L703.90,221.50 L704.15,221.52 L704.40,221.56 L704.65,221.62 L704.90,221.71 L705.15,221.81 L705.40,221.91 L705.65,222.03 L705.90,222.14 L706.15,222.25 L706.40,222.35 L706.65,222.44 L706.90,222.52 L707.15,222.57 L707.40,222.60 L707.65,222.60 L707.90,222.60 L708.15,222.60 L708.40,222.60 L708.65,222.60 L708.90,222.60 L709.15,222.60 L709.40,222.60 L709.65,222.60 L709.90,222.60 L710.15,222.60 L710.40,222.60 L710.65,222.60 L710.90,222.60 L711.15,222.60 L711.40,222.60 L711.65,222.60 L711.90,222.60 L712.15,222.60 L712.40,222.60 L712.65,222.60 L712.90,222.60 L713.15,222.60 L713.40,222.60 L713.65,222.60 L713.90,222.60 L714.15,222.60 L714.40,222.60 L714.65,222.60 L714.90,222.60 L715.15,222.60 L715.40,222.60 L715.65,222.60 L715.90,222.60 L716.15,222.60 L716.40,222.60 L716.65,222.60 L716.90,222.60 L717.15,222.60 L717.40,222.60 L717.65,222.60 L717.90,222.60 L718.15,222.60 L718.40,222.60 L718.65,222.60 L718.90,222.60 L719.15,222.60 L719.40,222.60 L719.65,222.60 L719.90,222.60 L720.15,222.60 L720.40,222.60 L720.65,222.60 L720.90,222.60 L721.15,222.60 L721.40,222.60 L721.65,222.60 L721.90,222.57 L722.15,222.44 L722.40,222.24 L722.65,221.97 L722.90,221.67 L723.15,221.34 L723.40,221.00 L723.65,220.67 L723.90,220.37 L724.15,220.12 L724.40,219.93 L724.65,219.82 L724.90,219.81 L725.15,219.89 L725.40,220.04 L725.65,220.23 L725.90,220.45 L726.15,220.68 L726.40,220.89 L726.65,221.06 L726.90,221.17 L727.15,221.20 L727.40,221.20 L727.65,221.20 L727.90,221.20 L728.15,221.20 L728.40,221.19 L728.65,221.19 L728.90,221.18 L729.15,221.18 L729.40,221.17 L729.65,221.16 L729.90,221.15 L730.15,221.14 L730.40,221.13 L730.65,221.11 L730.90,221.09 L731.15,221.08 L731.40,221.05 L731.65,221.03 L731.90,221.00 L732.15,220.98 L732.40,220.95 L732.65,220.91 L732.90,220.87 L733.15,220.84 L733.40,220.79 L733.65,220.75 L733.90,220.70 L734.15,220.65 L734.40,220.59 L734.65,220.53 L734.90,220.47 L735.15,220.40 L735.40,220.33 L735.65,220.25 L735.90,220.17 L736.15,220.09 L736.40,220.00 L736.65,219.91 L736.90,219.81 L737.15,219.71 L737.40,219.60 L737.65,219.49 L737.90,219.38 L738.15,219.25 L738.40,219.13 L738.65,218.99 L738.90,218.85 L739.15,218.71 L739.40,218.56 L739.65,216.53 L739.90,208.42 L740.15,199.61 L740.40,190.00 L740.65,182.38 L740.90,175.57 L741.15,167.82 L741.40,157.36 L741.65,142.91 L741.90,125.00 L742.15,104.38 L742.40,79.11 L742.65,44.97 L742.90,20.00 L743.15,20.00 L743.40,20.00 L743.65,20.00 L743.90,20.00 L744.15,20.00 L744.40,20.00 L744.65,20.00 L744.90,20.00 L745.15,20.00 L745.40,20.00 L745.65,20.00 L745.90,20.00 L746.15,20.00 L746.40,20.00 L746.65,20.00 L746.90,20.00 L747.15,20.00 L747.40,20.00 L747.65,20.00 L747.90,20.00 L748.15,20.00 L748.40,52.43 L748.65,84.91 L748.90,108.69 L749.15,128.83 L749.40,146.10 L749.65,159.77 L749.90,170.01 L750.15,178.51 L750.40,185.46 L750.65,191.04 L750.90,196.30 L751.15,201.02 L751.40,204.28 L751.65,205.19 L751.90,204.82 L752.15,204.02 L752.40,202.88 L752.65,201.50 L752.90,199.98 L753.15,198.44 L753.40,196.96 L753.65,195.66 L753.90,194.59 L754.15,193.50 L754.40,192.35 L754.65,191.18 L754.90,190.03 L755.15,188.94 L755.40,187.96 L755.65,187.12 L755.90,186.47 L756.15,186.05 L756.40,185.90 L756.65,185.98 L756.90,186.20 L757.15,186.55 L757.40,187.00 L757.65,187.55 L757.90,188.17 L758.15,188.85 L758.40,189.58 L758.65,190.32 L758.90,191.07 L759.15,191.81 L759.40,192.52 L759.65,193.18 L759.90,193.78 L760.15,194.32 L760.40,194.85 L760.65,195.39 L760.90,195.92 L761.15,196.46 L761.40,196.99 L761.65,197.52 L761.90,198.04 L762.15,198.55 L762.40,199.06 L762.65,199.56 L762.90,200.04 L763.15,200.51 L763.40,200.97 L763.65,201.41 L763.90,201.84 L764.15,202.24 L764.40,202.64 L764.65,203.04 L764.90,203.43 L765.15,203.81 L765.40,204.18 L765.65,204.55 L765.90,204.91 L766.15,205.26 L766.40,205.59 L766.65,205.92 L766.90,206.24 L767.15,206.55 L767.40,206.84 L767.65,207.13 L767.90,207.40 L768.15,207.65 L768.40,207.91 L768.65,208.17 L768.90,208.42 L769.15,208.67 L769.40,208.91 L769.65,209.14 L769.90,209.36 L770.15,209.57 L770.40,209.77 L770.65,209.95 L770.90,210.12 L771.15,210.27 L771.40,210.41 L771.65,210.52 L771.90,210.63 L772.15,210.73 L772.40,210.84 L772.65,210.94 L772.90,211.04 L773.15,211.14 L773.40,211.23 L773.65,211.33 L773.90,211.42 L774.15,211.50 L774.40,211.59 L774.65,211.67 L774.90,211.74 L775.15,211.82 L775.40,211.89 L775.65,211.95 L775.90,212.01 L776.15,212.06 L776.40,212.11 L776.65,212.16 L776.90,212.20 L777.15,212.23 L777.40,212.26 L777.65,212.28 L777.90,212.29 L778.15,212.30 L778.40,212.18 L778.65,210.94 L778.90,208.64 L779.15,205.65 L779.40,200.32 L779.65,194.04 L779.90,189.53 L780.15,185.57 L780.40,182.22 L780.65,179.50 L780.90,177.15 L781.15,175.09 L781.40,173.44" fill="none" stroke="#111" stroke-width="1.7" stroke-linejoin="round" stroke-linecap="round" clip-path="url(#c_p3b)"/>
<path d="M783.1,251.3 L564.9,252.8 L564.9,162.1 L780.9,162.1" fill="none" stroke="#111" stroke-width="1.7" stroke-linejoin="miter"/>
<path d="M783.1,162.7 L783.1,252.10000000000002" stroke="#111" stroke-width="2" fill="none"/>
<path d="M70.2,162.1 L70.2,252.8" stroke="#111" stroke-width="2.2" fill="none"/>
<path d="M283.2,162.1 L283.2,252.8" stroke="#111" stroke-width="2.0" fill="none"/>
<path d="M66.3,57.3 L68.5,57.3" stroke="#111" stroke-width="1.5" fill="none"/>
<path d="M66.3,102.3 L68.5,102.3" stroke="#111" stroke-width="1.5" fill="none"/>
<path d="M66.3,142.7 L68.5,142.7" stroke="#111" stroke-width="1.5" fill="none"/>
<path d="M67.0,166 L70.2,166" stroke="#111" stroke-width="1.5" fill="none"/>
<path d="M67.0,194.5 L70.2,194.5" stroke="#111" stroke-width="1.5" fill="none"/>
<path d="M67.0,225.6 L70.2,225.6" stroke="#111" stroke-width="1.5" fill="none"/>
<path d="M67.0,249.1 L70.2,249.1" stroke="#111" stroke-width="1.5" fill="none"/>
<text x="62.3" y="62.6" font-size="11.8" text-anchor="end" >150</text>
<text x="62.3" y="107.6" font-size="11.8" text-anchor="end" >75</text>
<text x="60.2" y="147.3" font-size="11.8" text-anchor="end" >0</text>
<text x="62.3" y="171" font-size="11.8" text-anchor="end" >75</text>
<text x="62.3" y="200.7" font-size="11.8" text-anchor="end" >50</text>
<text x="62.3" y="231" font-size="11.8" text-anchor="end" >25</text>
<text x="59.0" y="254.1" font-size="11.8" text-anchor="end" >0</text>
<text transform="translate(34.5,241.7) rotate(-90)" font-size="11.8">mAU (220 nm)</text>
<path d="M70.6,252.8 L70.89999999999999,256.2" stroke="#111" stroke-width="1.3" fill="none"/>
<path d="M176.9,252.8 L177.20000000000002,256.2" stroke="#111" stroke-width="1.3" fill="none"/>
<path d="M283.7,252.8 L284.0,256.2" stroke="#111" stroke-width="1.3" fill="none"/>
<text x="69.4" y="269.2" font-size="11.8" text-anchor="middle" >6</text>
<text x="173.9" y="269.2" font-size="11.8" text-anchor="middle" >10</text>
<text x="281.5" y="267.8" font-size="11.8" text-anchor="middle" >14</text>
<text x="146.9" y="295.2" font-size="12.1" text-anchor="start" >Time (min.)</text>
<path d="M313.8,253.3 L314.3,257.4" stroke="#111" stroke-width="1.3" fill="none"/>
<path d="M421.7,253.3 L422.2,257.4" stroke="#111" stroke-width="1.3" fill="none"/>
<path d="M529.5,253.3 L530.0,257.4" stroke="#111" stroke-width="1.3" fill="none"/>
<text x="313.3" y="270.7" font-size="11.8" text-anchor="middle" >6</text>
<text x="420.9" y="270.7" font-size="11.8" text-anchor="middle" >10</text>
<text x="530.1" y="270.7" font-size="11.8" text-anchor="middle" >14</text>
<text x="393.7" y="290.2" font-size="12.1" text-anchor="start" >Time (min.)</text>
<path d="M565.0999999999999,252.6 L565.8,256.8" stroke="#111" stroke-width="1.3" fill="none"/>
<path d="M676.8,252.0 L677.5,256.2" stroke="#111" stroke-width="1.3" fill="none"/>
<path d="M781.5999999999999,251.3 L782.3,255.5" stroke="#111" stroke-width="1.3" fill="none"/>
<text x="564.1" y="269.8" font-size="11.8" text-anchor="middle" >6</text>
<text x="675.4" y="269.8" font-size="11.8" text-anchor="middle" >10</text>
<text x="781.1" y="269.8" font-size="11.8" text-anchor="middle" >14</text>
<text x="646.8" y="295.2" font-size="12.1" text-anchor="start" >Time (min.)</text>
<text transform="translate(95.1,82.6) scale(1.09,1)" font-size="11.0">ANA-TA9(<tspan dx="1.0" dy="-0.8" font-weight="bold" font-family="'DejaVu Sans', sans-serif" font-size="9.4">&#8727;</tspan><tspan dx="1.3" dy="0.8">)</tspan></text>
<text transform="translate(341.6,71.1) scale(1.09,1)" font-size="11.0">ANA-TA9(<tspan dx="1.0" dy="-0.8" font-weight="bold" font-family="'DejaVu Sans', sans-serif" font-size="9.4">&#8727;</tspan><tspan dx="1.3" dy="0.8">)</tspan></text>
<text transform="translate(591.3,69.7) scale(1.09,1)" font-size="11.0">ANA-TA9(<tspan dx="1.0" dy="-0.8" font-weight="bold" font-family="'DejaVu Sans', sans-serif" font-size="9.4">&#8727;</tspan><tspan dx="1.3" dy="0.8">)</tspan></text>
<text transform="translate(249.5,109.4) scale(1.09,1)" font-size="11.0" text-anchor="start" >HSA</text>
<text transform="translate(501.1,113) scale(1.09,1)" font-size="11.0" text-anchor="start" >HSA</text>
<text transform="translate(751.6,109.4) scale(1.09,1)" font-size="11.0" text-anchor="start" >HSA</text>
<text transform="translate(441.8,74.7) scale(1.09,1)" font-size="11.0" text-anchor="start" >cOmplete</text>
<text transform="translate(684.9,67.9) scale(1.09,1)" font-size="11.0" text-anchor="start" >AEBSF</text>
<text transform="translate(71.7,224.4) scale(1.09,1)" font-size="11.0" text-anchor="start" >A1</text>
<text transform="translate(83.6,209.3) scale(1.09,1)" font-size="11.0" text-anchor="start" >A2</text>
<text transform="translate(94.3,225.6) scale(1.09,1)" font-size="11.0" text-anchor="start" >A3</text>
<text transform="translate(108.5,211) scale(1.09,1)" font-size="11.0" text-anchor="start" >A4</text>
<text transform="translate(133.4,219) scale(1.09,1)" font-size="11.0" text-anchor="start" >A5</text>
<text transform="translate(167.1,176.2) scale(1.09,1)" font-size="11.0" text-anchor="start" >A6</text>
<text transform="translate(252.6,190.9) scale(1.09,1)" font-size="11.0" text-anchor="start" >HSA</text>
<text transform="translate(394.1,177.9) scale(1.09,1)" font-size="11.0" text-anchor="start" >YRMI</text>
<text transform="translate(502.3,189.1) scale(1.09,1)" font-size="11.0" text-anchor="start" >HSA</text>
<text transform="translate(643.4,191.3) scale(1.09,1)" font-size="11.0" text-anchor="start" >YRMI</text>
<text transform="translate(686.5,187.9) scale(1.09,1)" font-size="11.0" text-anchor="start" >ACP</text>
<text transform="translate(753.2,181.9) scale(1.09,1)" font-size="11.0" text-anchor="start" >HSA</text>
<text x="412.7" y="213.3" font-size="10.5" font-weight="bold" text-anchor="middle" font-family="'DejaVu Sans', sans-serif">&#8727;</text>
<text x="664.1" y="205.2" font-size="10.5" font-weight="bold" text-anchor="middle" font-family="'DejaVu Sans', sans-serif">&#8727;</text>
<text transform="translate(41.6,327.6) scale(1.12,1)" font-size="19.4" text-anchor="start" >(b)</text>
<path d="M73.4,360.5 L73.4,461 M73.4,473.5 L73.4,682" stroke="#111" stroke-width="1.7" fill="none"/>
<path d="M65.4,682 L423,682" stroke="#111" stroke-width="1.6" fill="none"/>
<path d="M73.4,682 L73.4,691.4" stroke="#111" stroke-width="1.6" fill="none"/>
<path d="M116.1,684.2 L116.1,691.6" stroke="#111" stroke-width="1.6" fill="none"/>
<path d="M159.6,684.2 L159.6,691.6" stroke="#111" stroke-width="1.6" fill="none"/>
<path d="M203.0,684.2 L203.0,691.6" stroke="#111" stroke-width="1.6" fill="none"/>
<path d="M247.5,684.2 L247.5,691.6" stroke="#111" stroke-width="1.6" fill="none"/>
<path d="M291.0,684.2 L291.0,691.6" stroke="#111" stroke-width="1.6" fill="none"/>
<path d="M334.9,684.2 L334.9,691.6" stroke="#111" stroke-width="1.6" fill="none"/>
<path d="M378.2,684.2 L378.2,691.6" stroke="#111" stroke-width="1.6" fill="none"/>
<path d="M422.4,682 L422.4,691.4" stroke="#111" stroke-width="1.6" fill="none"/>
<text transform="translate(71.4,709.7) scale(1.06,1)" font-size="17.1" text-anchor="middle" >0</text>
<text transform="translate(116.0,709.7) scale(1.06,1)" font-size="17.1" text-anchor="middle" >1</text>
<text transform="translate(159.4,709.7) scale(1.06,1)" font-size="17.1" text-anchor="middle" >2</text>
<text transform="translate(203.2,709.7) scale(1.06,1)" font-size="17.1" text-anchor="middle" >3</text>
<text transform="translate(246.9,709.7) scale(1.06,1)" font-size="17.1" text-anchor="middle" >4</text>
<text transform="translate(290.6,709.7) scale(1.06,1)" font-size="17.1" text-anchor="middle" >5</text>
<text transform="translate(333.8,709.7) scale(1.06,1)" font-size="17.1" text-anchor="middle" >6</text>
<text transform="translate(378,709.7) scale(1.06,1)" font-size="17.1" text-anchor="middle" >7</text>
<text transform="translate(422.2,709.7) scale(1.06,1)" font-size="17.1" text-anchor="middle" >8</text>
<text x="223.9" y="729.6" font-size="12" text-anchor="start" >Time (h)</text>
<text transform="translate(8.7,563.2) rotate(-90) scale(1,1.07)" font-size="12.05">Peak height (mAU)</text>
<path d="M62.3,387.2 L70.6,387.2" stroke="#111" stroke-width="1.5" fill="none"/>
<path d="M63,540.4 L71.2,540.4" stroke="#111" stroke-width="1.5" fill="none"/>
<path d="M65.6,607 L73.4,607" stroke="#111" stroke-width="1.5" fill="none"/>
<text transform="translate(59.4,391.2) scale(1.05,1)" font-size="16.5" text-anchor="end" >250</text>
<text transform="translate(56.8,544.2) scale(1.05,1)" font-size="16.5" text-anchor="end" >100</text>
<text transform="translate(55.6,610.8) scale(1.05,1)" font-size="16.5" text-anchor="end" >50</text>
<text transform="translate(53.6,693.9) scale(1.05,1)" font-size="16.5" text-anchor="end" >0</text>
<path d="M78.0,671.6 L120.5,652.9 L161.8,649.4 L205.4,650.6 L247.0,654.4 L289.1,658.5 L332.0,661.0 L373.6,662.7 L415.2,664.5" fill="none" stroke="#111" stroke-width="3.0" stroke-linejoin="round" stroke-linecap="round"/>
<path d="M78.0,671.6 L120.5,671.6 L162.3,671.3 L205.6,667.4 L247.2,664.4 L289.0,659.0 L332.0,656.0 L373.6,653.1 L415.2,650.0" fill="none" stroke="#111" stroke-width="3.0" stroke-linejoin="round" stroke-linecap="round"/>
<path d="M78.0,671.6 L118.7,667.1 L160.5,666.2 L204.2,660.2 L245.6,664.6 L287.0,650.2 L330.3,645.4 L371.8,642.2 L413.4,640.5" fill="none" stroke="#111" stroke-width="2.9" stroke-linejoin="round" stroke-linecap="round"/>
<path d="M78.0,671.6 L120.5,670.3 L162.3,668.3 L204.5,659.0 L247.2,648.2 L288.9,634.8 L332.0,626.5 L373.6,618.4 L415.2,607.7" fill="none" stroke="#111" stroke-width="2.9" stroke-linejoin="round" stroke-linecap="round"/>
<path d="M78.0,671.6 L120.5,652.9 L162.3,638.7 L205.8,625.7 L247.0,618.7 L289.1,615.8 L332.0,614.1 L373.6,614.1 L415.2,613.0" fill="none" stroke="#111" stroke-width="3.0" stroke-linejoin="round" stroke-linecap="round"/>
<path d="M78.0,671.6 L118.9,607.9 L160.1,558.1 L203.8,520.6 L245.4,502.5 L286.9,506.1 L330.3,512.5 L371.8,530.9 L413.4,542.7" fill="none" stroke="#111" stroke-width="3.1" stroke-linejoin="round" stroke-linecap="round"/>
<path d="M77.0,378.0 L118.9,446.1 L160.6,487.8 L203.8,564.7 L245.4,617.6 L286.9,656.0 L330.6,666.6 L361.8,673.4 L371.8,673.8 L413.6,673.8" fill="none" stroke="#111" stroke-width="3.1" stroke-linejoin="round" stroke-linecap="round"/>
<path d="M120,463.8 L160,463.8 L160,473.4 L120,473.4 Z" fill="#fff"/>
<path d="M52.50,460.60 L53.00,460.64 L53.50,460.69 L54.00,460.73 L54.50,460.78 L55.00,460.82 L55.50,460.87 L56.00,460.91 L56.50,460.96 L57.00,461.01 L57.50,461.06 L58.00,461.10 L58.50,461.15 L59.00,461.20 L59.50,461.25 L60.00,461.31 L60.50,461.37 L61.00,461.44 L61.50,461.51 L62.00,461.58 L62.50,461.65 L63.00,461.71 L63.50,461.78 L64.00,461.83 L64.50,461.89 L65.00,461.93 L65.50,461.96 L66.00,461.99 L66.50,462.00 L67.00,462.00 L67.50,461.97 L68.00,461.93 L68.50,461.86 L69.00,461.79 L69.50,461.69 L70.00,461.59 L70.50,461.47 L71.00,461.35 L71.50,461.22 L72.00,461.09 L72.50,460.95 L73.00,460.81 L73.50,460.68 L74.00,460.55 L74.50,460.43 L75.00,460.31 L75.50,460.21 L76.00,460.11 L76.50,460.04 L77.00,459.97 L77.50,459.93 L78.00,459.90 L78.50,459.90 L79.00,459.93 L79.50,459.99 L80.00,460.07 L80.50,460.18 L81.00,460.30 L81.50,460.43 L82.00,460.58 L82.50,460.74 L83.00,460.90 L83.50,461.06 L84.00,461.22 L84.50,461.38 L85.00,461.52 L85.50,461.65 L86.00,461.77 L86.50,461.86 L87.00,461.94 L87.50,461.98 L88.00,462.00 L88.50,461.95 L89.00,461.83 L89.50,461.64 L90.00,461.42 L90.50,461.19" fill="none" stroke="#111" stroke-width="1.25" stroke-linecap="round"/>
<path d="M54.20,473.60 L54.70,473.80 L55.20,473.99 L55.70,474.16 L56.20,474.32 L56.70,474.47 L57.20,474.60 L57.70,474.72 L58.20,474.83 L58.70,474.92 L59.20,475.01 L59.70,475.09 L60.20,475.15 L60.70,475.21 L61.20,475.26 L61.70,475.30 L62.20,475.33 L62.70,475.35 L63.20,475.37 L63.70,475.39 L64.20,475.40 L64.70,475.40 L65.20,475.39 L65.70,475.34 L66.20,475.24 L66.70,475.12 L67.20,474.96 L67.70,474.78 L68.20,474.59 L68.70,474.38 L69.20,474.18 L69.70,473.97 L70.20,473.78 L70.70,473.61 L71.20,473.46 L71.70,473.33 L72.20,473.25 L72.70,473.20 L73.20,473.20 L73.70,473.23 L74.20,473.28 L74.70,473.34 L75.20,473.43 L75.70,473.52 L76.20,473.63 L76.70,473.75 L77.20,473.88 L77.70,474.02 L78.20,474.16 L78.70,474.30 L79.20,474.44 L79.70,474.58 L80.20,474.72 L80.70,474.85 L81.20,474.97 L81.70,475.08 L82.20,475.17 L82.70,475.26 L83.20,475.32 L83.70,475.37 L84.20,475.40 L84.70,475.39 L85.20,475.34 L85.70,475.23 L86.20,475.07 L86.70,474.88 L87.20,474.66 L87.70,474.43 L88.20,474.19" fill="none" stroke="#111" stroke-width="1.25" stroke-linecap="round"/>
<path d="M119.20,462.00 L119.70,462.04 L120.20,462.08 L120.70,462.13 L121.20,462.18 L121.70,462.23 L122.20,462.28 L122.70,462.33 L123.20,462.39 L123.70,462.44 L124.20,462.50 L124.70,462.56 L125.20,462.63 L125.70,462.70 L126.20,462.79 L126.70,462.88 L127.20,462.99 L127.70,463.09 L128.20,463.20 L128.70,463.31 L129.20,463.41 L129.70,463.50 L130.20,463.59 L130.70,463.67 L131.20,463.73 L131.70,463.77 L132.20,463.80 L132.70,463.80 L133.20,463.78 L133.70,463.74 L134.20,463.68 L134.70,463.60 L135.20,463.51 L135.70,463.41 L136.20,463.30 L136.70,463.19 L137.20,463.06 L137.70,462.94 L138.20,462.81 L138.70,462.69 L139.20,462.57 L139.70,462.45 L140.20,462.35 L140.70,462.25 L141.20,462.17 L141.70,462.10 L142.20,462.04 L142.70,462.01 L143.20,462.00 L143.70,462.01 L144.20,462.03 L144.70,462.06 L145.20,462.10 L145.70,462.16 L146.20,462.22 L146.70,462.29 L147.20,462.36 L147.70,462.44 L148.20,462.53 L148.70,462.62 L149.20,462.71 L149.70,462.79 L150.20,462.88 L150.70,462.97 L151.20,463.06 L151.70,463.14 L152.20,463.21 L152.70,463.28 L153.20,463.34 L153.70,463.40 L154.20,463.44 L154.70,463.47 L155.20,463.49 L155.70,463.50 L156.20,463.43 L156.70,463.26 L157.20,463.01 L157.70,462.73 L158.20,462.45" fill="none" stroke="#111" stroke-width="1.25" stroke-linecap="round"/>
<path d="M122.20,473.20 L122.70,473.25 L123.20,473.30 L123.70,473.35 L124.20,473.41 L124.70,473.47 L125.20,473.53 L125.70,473.59 L126.20,473.65 L126.70,473.72 L127.20,473.79 L127.70,473.86 L128.20,473.93 L128.70,474.02 L129.20,474.11 L129.70,474.22 L130.20,474.34 L130.70,474.46 L131.20,474.59 L131.70,474.71 L132.20,474.83 L132.70,474.95 L133.20,475.06 L133.70,475.16 L134.20,475.24 L134.70,475.31 L135.20,475.36 L135.70,475.39 L136.20,475.40 L136.70,475.36 L137.20,475.29 L137.70,475.17 L138.20,475.02 L138.70,474.85 L139.20,474.66 L139.70,474.46 L140.20,474.26 L140.70,474.05 L141.20,473.86 L141.70,473.68 L142.20,473.51 L142.70,473.38 L143.20,473.28 L143.70,473.22 L144.20,473.20 L144.70,473.22 L145.20,473.26 L145.70,473.31 L146.20,473.39 L146.70,473.48 L147.20,473.58 L147.70,473.69 L148.20,473.81 L148.70,473.93 L149.20,474.05 L149.70,474.17 L150.20,474.29 L150.70,474.40 L151.20,474.50 L151.70,474.59 L152.20,474.67 L152.70,474.73 L153.20,474.78 L153.70,474.80 L154.20,474.79 L154.70,474.70 L155.20,474.57 L155.70,474.40 L156.20,474.21" fill="none" stroke="#111" stroke-width="1.25" stroke-linecap="round"/>
<path d="M120.5,648.9 L124.5,652.9 L120.5,656.9 L116.5,652.9 Z" fill="#111"/>
<path d="M161.8,645.4 L165.8,649.4 L161.8,653.4 L157.8,649.4 Z" fill="#111"/>
<path d="M205.4,646.6 L209.4,650.6 L205.4,654.6 L201.4,650.6 Z" fill="#111"/>
<path d="M247,650.4 L251.0,654.4 L247,658.4 L243.0,654.4 Z" fill="#111"/>
<path d="M289.1,654.5 L293.1,658.5 L289.1,662.5 L285.1,658.5 Z" fill="#111"/>
<path d="M332,657.0 L336.0,661 L332,665.0 L328.0,661 Z" fill="#111"/>
<path d="M373.6,658.7 L377.6,662.7 L373.6,666.7 L369.6,662.7 Z" fill="#111"/>
<path d="M415.2,660.5 L419.2,664.5 L415.2,668.5 L411.2,664.5 Z" fill="#111"/>
<path d="M116.7,667.8000000000001 L124.3,675.4 M116.7,675.4 L124.3,667.8000000000001 M120.5,667.0400000000001 L120.5,676.16" stroke="#111" stroke-width="1.6" fill="none"/>
<path d="M158.5,667.5 L166.10000000000002,675.0999999999999 M158.5,675.0999999999999 L166.10000000000002,667.5 M162.3,666.74 L162.3,675.8599999999999" stroke="#111" stroke-width="1.6" fill="none"/>
<path d="M201.79999999999998,663.6 L209.4,671.1999999999999 M201.79999999999998,671.1999999999999 L209.4,663.6 M205.6,662.84 L205.6,671.9599999999999" stroke="#111" stroke-width="1.6" fill="none"/>
<path d="M243.39999999999998,660.6 L251.0,668.1999999999999 M243.39999999999998,668.1999999999999 L251.0,660.6 M247.2,659.84 L247.2,668.9599999999999" stroke="#111" stroke-width="1.6" fill="none"/>
<path d="M285.2,655.2 L292.8,662.8 M285.2,662.8 L292.8,655.2 M289,654.44 L289,663.56" stroke="#111" stroke-width="1.6" fill="none"/>
<path d="M328.2,652.2 L335.8,659.8 M328.2,659.8 L335.8,652.2 M332,651.44 L332,660.56" stroke="#111" stroke-width="1.6" fill="none"/>
<path d="M369.8,649.3000000000001 L377.40000000000003,656.9 M369.8,656.9 L377.40000000000003,649.3000000000001 M373.6,648.5400000000001 L373.6,657.66" stroke="#111" stroke-width="1.6" fill="none"/>
<path d="M411.4,646.2 L419.0,653.8 M411.4,653.8 L419.0,646.2 M415.2,645.44 L415.2,654.56" stroke="#111" stroke-width="1.6" fill="none"/>
<rect x="114.9" y="660.7" width="7.6" height="7.6" fill="#111"/>
<rect x="156.7" y="659.8000000000001" width="7.6" height="7.6" fill="#111"/>
<rect x="200.39999999999998" y="653.8000000000001" width="7.6" height="7.6" fill="#111"/>
<rect x="241.79999999999998" y="658.2" width="7.6" height="7.6" fill="#111"/>
<rect x="283.2" y="643.8000000000001" width="7.6" height="7.6" fill="#111"/>
<rect x="326.5" y="639.0" width="7.6" height="7.6" fill="#111"/>
<rect x="368.0" y="635.8000000000001" width="7.6" height="7.6" fill="#111"/>
<rect x="409.59999999999997" y="634.1" width="7.6" height="7.6" fill="#111"/>
<path d="M204.5,653.2 L208.5,660.4000000000001 L200.5,660.4000000000001 Z" fill="#111"/>
<path d="M247.2,642.4 L251.2,649.6 L243.2,649.6 Z" fill="#111"/>
<path d="M288.9,629.0 L292.9,636.2 L284.9,636.2 Z" fill="#111"/>
<path d="M332,620.7 L336.0,627.9000000000001 L328.0,627.9000000000001 Z" fill="#111"/>
<path d="M373.6,612.6 L377.6,619.8000000000001 L369.6,619.8000000000001 Z" fill="#111"/>
<path d="M415.2,601.9 L419.2,609.1 L411.2,609.1 Z" fill="#111"/>
<path d="M116.7,649.1 L124.3,656.6999999999999 M116.7,656.6999999999999 L124.3,649.1" stroke="#111" stroke-width="1.9" fill="none"/>
<path d="M158.5,634.9000000000001 L166.10000000000002,642.5 M158.5,642.5 L166.10000000000002,634.9000000000001" stroke="#111" stroke-width="1.9" fill="none"/>
<path d="M202.0,621.9000000000001 L209.60000000000002,629.5 M202.0,629.5 L209.60000000000002,621.9000000000001" stroke="#111" stroke-width="1.9" fill="none"/>
<path d="M243.2,614.9000000000001 L250.8,622.5 M243.2,622.5 L250.8,614.9000000000001" stroke="#111" stroke-width="1.9" fill="none"/>
<path d="M285.3,612.0 L292.90000000000003,619.5999999999999 M285.3,619.5999999999999 L292.90000000000003,612.0" stroke="#111" stroke-width="1.9" fill="none"/>
<path d="M328.2,610.3000000000001 L335.8,617.9 M328.2,617.9 L335.8,610.3000000000001" stroke="#111" stroke-width="1.9" fill="none"/>
<path d="M369.8,610.3000000000001 L377.40000000000003,617.9 M369.8,617.9 L377.40000000000003,610.3000000000001" stroke="#111" stroke-width="1.9" fill="none"/>
<path d="M411.4,609.2 L419.0,616.8 M411.4,616.8 L419.0,609.2" stroke="#111" stroke-width="1.9" fill="none"/>
<circle cx="118.9" cy="604.7" r="3.9" fill="#111"/>
<circle cx="160.1" cy="554.9" r="3.9" fill="#111"/>
<circle cx="203.8" cy="517.4" r="3.9" fill="#111"/>
<circle cx="245.4" cy="499.3" r="3.9" fill="#111"/>
<circle cx="286.9" cy="502.9" r="3.9" fill="#111"/>
<circle cx="330.3" cy="509.3" r="3.9" fill="#111"/>
<circle cx="371.8" cy="527.7" r="3.9" fill="#111"/>
<circle cx="413.4" cy="539.5" r="3.9" fill="#111"/>
<rect x="74" y="667" width="9" height="9.6" fill="#111"/>
<circle cx="77" cy="378" r="3.2" fill="#fff" stroke="#111" stroke-width="1.6"/>
<circle cx="118.9" cy="446.1" r="3.2" fill="#fff" stroke="#111" stroke-width="1.6"/>
<circle cx="160.6" cy="487.8" r="3.2" fill="#fff" stroke="#111" stroke-width="1.6"/>
<circle cx="203.8" cy="564.7" r="3.2" fill="#fff" stroke="#111" stroke-width="1.6"/>
<circle cx="245.4" cy="617.6" r="3.2" fill="#fff" stroke="#111" stroke-width="1.6"/>
<circle cx="286.9" cy="656" r="3.2" fill="#fff" stroke="#111" stroke-width="1.6"/>
<circle cx="330.3" cy="666.3" r="3.2" fill="#fff" stroke="#111" stroke-width="1.6"/>
<circle cx="371.8" cy="671.3" r="3.2" fill="#fff" stroke="#111" stroke-width="1.6"/>
<circle cx="413.4" cy="671.3" r="3.2" fill="#fff" stroke="#111" stroke-width="1.6"/>
<path d="M444,406.2 L464.1,406.2" stroke="#111" stroke-width="3.1"/>
<text transform="translate(475.7,410.8) scale(1.09,1)" font-size="11.0" text-anchor="start" >A1: YR, I</text>
<path d="M444,431.1 L464.1,431.1" stroke="#111" stroke-width="3.1"/>
<text transform="translate(475.7,436.0) scale(1.09,1)" font-size="11.0" text-anchor="start" >A2: Y, RM</text>
<path d="M444,456.0 L464.1,456.0" stroke="#111" stroke-width="3.1"/>
<text transform="translate(477,461.0) scale(1.09,1)" font-size="11.0" text-anchor="start" >A3: SKGQAYR</text>
<path d="M444,481.3 L464.1,481.3" stroke="#111" stroke-width="3.1"/>
<text transform="translate(475.7,485.6) scale(1.09,1)" font-size="11.0" text-anchor="start" >A4: SKGQAY</text>
<path d="M444,506.0 L464.1,506.0" stroke="#111" stroke-width="3.1"/>
<text transform="translate(475.7,510.90000000000003) scale(1.09,1)" font-size="11.0" text-anchor="start" >A5: YRM</text>
<path d="M444,531.2 L464.1,531.2" stroke="#111" stroke-width="3.1"/>
<text transform="translate(475.7,537.1999999999999) scale(1.09,1)" font-size="11.0" text-anchor="start" >A6: YRMI</text>
<path d="M444,556.3 L464.1,556.3" stroke="#111" stroke-width="3.1"/>
<text transform="translate(479.6,562.0999999999999) scale(1.09,1)" font-size="11.0" text-anchor="start" >ANA-TA9</text>
<rect x="449.2" y="406" width="5.5" height="4.8" fill="#111"/>
<path d="M454.4,426.6 L458.8,436.1 L450,436.1 Z" fill="#111"/>
<path d="M453.4,453 L457.6,459.3 L453.4,464.8 L449.2,459.3 Z" fill="#111"/>
<path d="M448.2,478.4 L451.0,484.3 M451.0,478.4 L448.2,484.3 M451.4,478.4 L454.2,484.3 M454.2,478.4 L451.4,484.3" stroke="#111" stroke-width="1.5"/>
<path d="M453.5,502 L453.5,513.7 M448.4,511 L453.5,506.5 L458.6,511 M450,503.2 L453.5,506 L457,503.2" stroke="#111" stroke-width="1.8" fill="none"/>
<ellipse cx="454.4" cy="532" rx="3.9" ry="4.1" fill="#111"/>
<ellipse cx="453.7" cy="556.9" rx="4.3" ry="3.4" fill="#fff" stroke="#111" stroke-width="1.5"/>
</svg></body></html>
